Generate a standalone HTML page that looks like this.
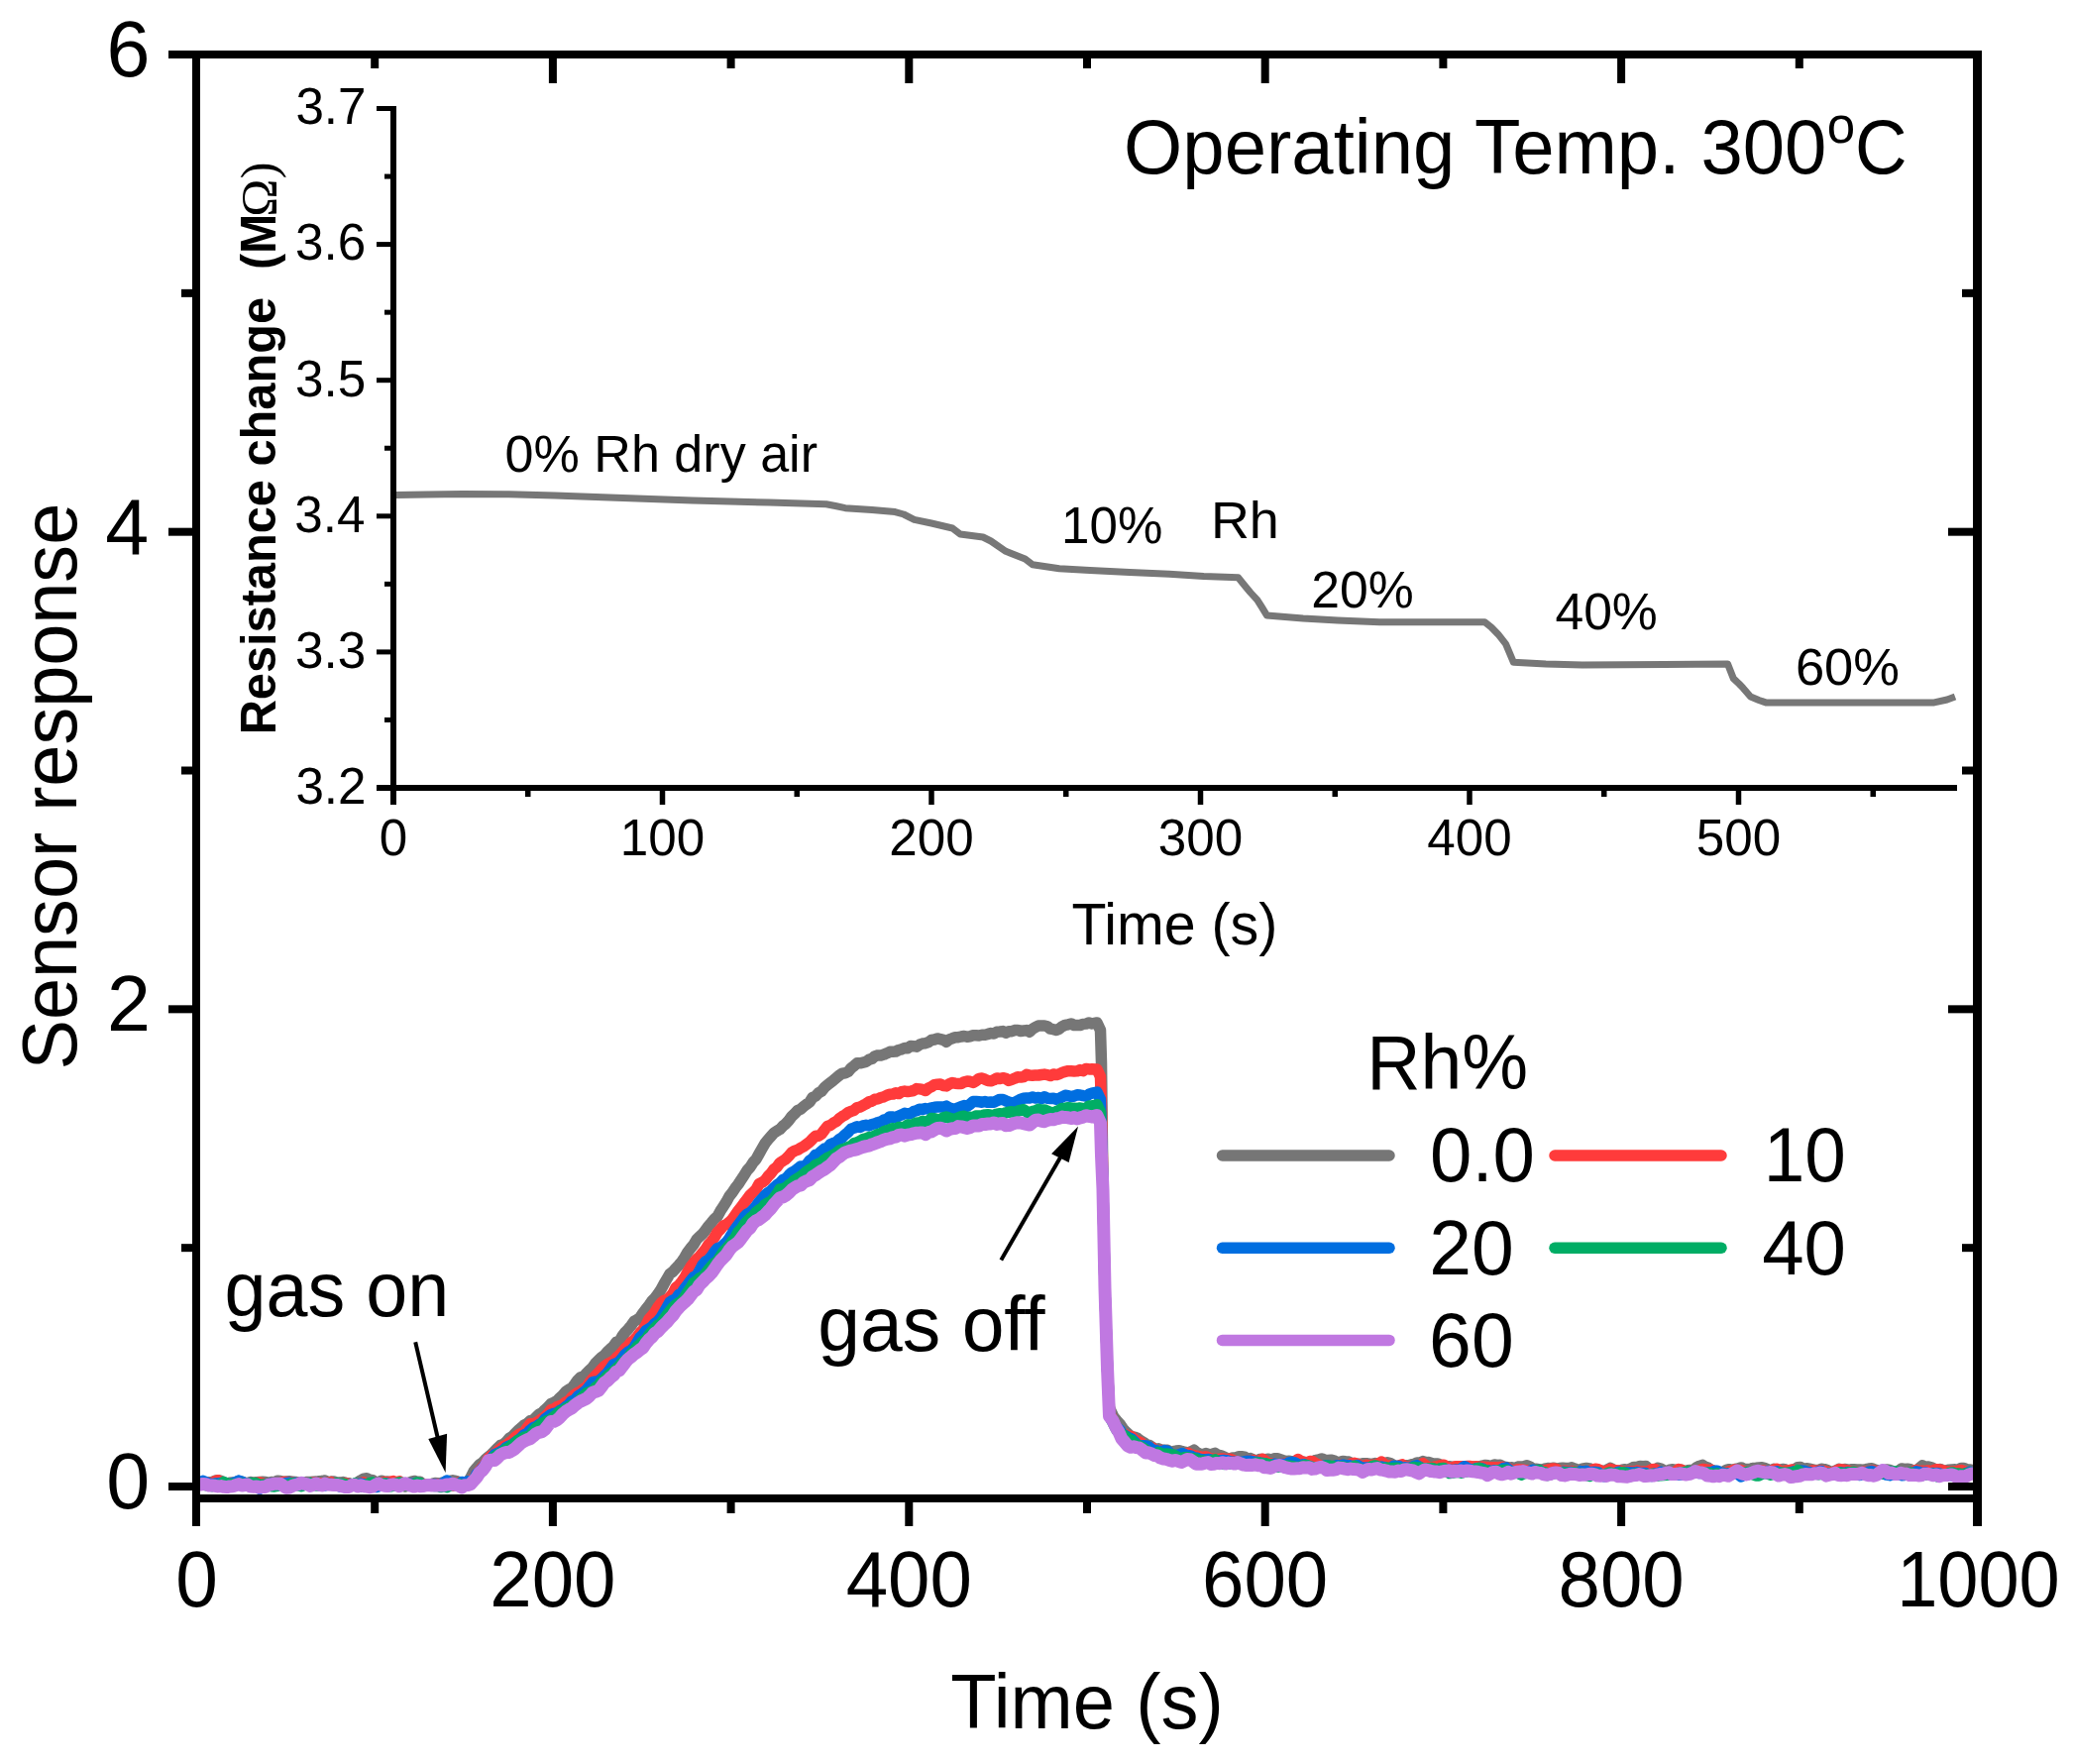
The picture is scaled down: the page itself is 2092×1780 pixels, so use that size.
<!DOCTYPE html>
<html><head><meta charset="utf-8"><style>html,body{margin:0;padding:0;background:#fff;overflow:hidden;}svg{display:block;}</style></head>
<body><svg width="2092" height="1780" viewBox="0 0 2092 1780">
<rect width="2092" height="1780" fill="#fff"/>
<defs><clipPath id="plotclip"><rect x="198" y="55" width="1798" height="1457"/></clipPath></defs>
<g clip-path="url(#plotclip)">
<path d="M199.0,1496.2 L202.0,1496.1 L205.0,1496.7 L208.0,1496.4 L211.0,1495.7 L214.0,1495.5 L217.0,1494.2 L220.0,1493.7 L223.0,1494.4 L226.0,1495.8 L229.0,1497.3 L232.0,1496.3 L235.0,1495.9 L238.0,1495.6 L241.0,1494.5 L244.0,1495.3 L247.0,1496.3 L250.0,1496.4 L253.0,1495.5 L256.0,1496.4 L259.0,1495.7 L262.0,1495.4 L265.0,1495.3 L268.0,1495.4 L271.0,1496.5 L274.0,1495.5 L277.0,1496.1 L280.0,1494.2 L283.0,1494.5 L286.0,1495.3 L289.0,1495.0 L292.0,1494.8 L295.0,1495.1 L298.0,1495.4 L301.0,1496.0 L304.0,1497.3 L307.0,1496.1 L310.0,1495.4 L313.0,1495.4 L316.0,1495.2 L319.0,1495.1 L322.0,1494.7 L325.0,1494.6 L328.0,1494.0 L331.0,1495.6 L334.0,1495.1 L337.0,1495.0 L340.0,1495.9 L343.0,1496.1 L346.0,1495.6 L349.0,1496.4 L352.0,1496.8 L355.0,1498.9 L358.0,1497.8 L361.0,1495.9 L364.0,1493.9 L367.0,1492.1 L370.0,1491.8 L373.0,1493.2 L376.0,1493.7 L379.0,1495.6 L382.0,1496.1 L385.0,1494.2 L388.0,1495.4 L391.0,1495.0 L394.0,1496.7 L397.0,1496.4 L400.0,1496.6 L403.0,1496.2 L406.0,1498.7 L409.0,1500.0 L412.0,1496.5 L415.0,1495.3 L418.0,1494.4 L421.0,1495.2 L424.0,1495.3 L427.0,1498.3 L430.0,1498.4 L433.0,1497.9 L436.0,1497.4 L439.0,1496.6 L442.0,1496.8 L445.0,1496.4 L448.0,1495.9 L451.0,1494.7 L454.0,1494.4 L457.0,1493.8 L460.0,1494.3 L463.0,1495.5 L466.0,1496.1 L469.0,1496.6 L472.0,1496.0 L475.0,1491.1 L478.0,1484.9 L481.0,1481.2 L484.0,1477.8 L487.0,1475.9 L490.0,1472.5 L493.0,1470.1 L496.0,1467.5 L499.0,1464.4 L502.0,1461.5 L505.0,1458.5 L508.0,1457.4 L511.0,1454.7 L514.0,1451.3 L517.0,1449.6 L520.0,1446.2 L523.0,1443.2 L526.0,1440.8 L529.0,1438.1 L532.0,1436.4 L535.0,1433.7 L538.0,1433.1 L541.0,1430.1 L544.0,1427.2 L547.0,1425.7 L550.0,1422.5 L553.0,1419.9 L556.0,1416.5 L559.0,1415.2 L562.0,1413.7 L565.0,1410.5 L568.0,1407.8 L571.0,1404.3 L574.0,1402.2 L577.0,1400.7 L580.0,1396.9 L583.0,1392.6 L586.0,1389.8 L589.0,1389.0 L592.0,1385.6 L595.0,1382.7 L598.0,1379.8 L601.0,1375.5 L604.0,1372.5 L607.0,1369.6 L610.0,1367.5 L613.0,1364.0 L616.0,1361.2 L619.0,1358.6 L622.0,1354.2 L625.0,1353.8 L628.0,1348.2 L631.0,1344.2 L634.0,1341.2 L637.0,1337.5 L640.0,1333.2 L643.0,1331.8 L646.0,1329.2 L649.0,1324.9 L652.0,1320.8 L655.0,1317.1 L658.0,1312.8 L661.0,1309.7 L664.0,1305.7 L667.0,1301.3 L670.0,1295.7 L673.0,1290.5 L676.0,1285.4 L679.0,1283.3 L682.0,1279.9 L685.0,1276.7 L688.0,1273.0 L691.0,1268.7 L694.0,1263.4 L697.0,1259.5 L700.0,1255.9 L703.0,1250.8 L706.0,1247.8 L709.0,1245.2 L712.0,1241.4 L715.0,1237.2 L718.0,1233.7 L721.0,1230.0 L724.0,1227.4 L727.0,1221.9 L730.0,1217.3 L733.0,1212.7 L736.0,1207.1 L739.0,1203.4 L742.0,1198.8 L745.0,1195.0 L748.0,1190.4 L751.0,1185.8 L754.0,1181.0 L757.0,1177.8 L760.0,1173.0 L763.0,1169.8 L766.0,1164.4 L769.0,1159.0 L772.0,1153.8 L775.0,1150.0 L778.0,1146.7 L781.0,1143.3 L784.0,1141.3 L787.0,1139.6 L790.0,1136.3 L793.0,1133.9 L796.0,1130.6 L799.0,1126.5 L802.0,1123.7 L805.0,1120.5 L808.0,1119.2 L811.0,1116.5 L814.0,1114.2 L817.0,1112.1 L820.0,1107.5 L823.0,1106.1 L826.0,1102.9 L829.0,1101.3 L832.0,1097.4 L835.0,1094.9 L838.0,1092.5 L841.0,1090.2 L844.0,1087.7 L847.0,1085.1 L850.0,1083.2 L853.0,1082.8 L856.0,1081.4 L859.0,1077.8 L862.0,1075.4 L865.0,1072.8 L868.0,1072.8 L871.0,1072.1 L874.0,1071.4 L877.0,1069.3 L880.0,1068.3 L883.0,1065.7 L886.0,1064.9 L889.0,1065.0 L892.0,1064.1 L895.0,1062.8 L898.0,1061.3 L901.0,1061.2 L904.0,1061.0 L907.0,1059.5 L910.0,1058.8 L913.0,1057.5 L916.0,1057.8 L919.0,1055.5 L922.0,1055.7 L925.0,1056.2 L928.0,1054.2 L931.0,1053.0 L934.0,1052.7 L937.0,1051.6 L940.0,1049.5 L943.0,1049.0 L946.0,1048.0 L949.0,1048.6 L952.0,1049.3 L955.0,1051.4 L958.0,1048.9 L961.0,1047.8 L964.0,1046.8 L967.0,1046.7 L970.0,1046.0 L973.0,1045.5 L976.0,1046.3 L979.0,1045.8 L982.0,1044.8 L985.0,1044.7 L988.0,1045.0 L991.0,1044.2 L994.0,1044.3 L997.0,1043.4 L1000.0,1042.6 L1003.0,1043.0 L1006.0,1041.3 L1009.0,1041.0 L1012.0,1040.6 L1015.0,1042.2 L1018.0,1040.8 L1021.0,1040.7 L1024.0,1039.6 L1027.0,1039.4 L1030.0,1040.5 L1033.0,1040.0 L1036.0,1039.6 L1039.0,1041.3 L1042.0,1038.3 L1045.0,1036.6 L1048.0,1034.9 L1051.0,1035.1 L1054.0,1035.0 L1057.0,1035.8 L1060.0,1038.2 L1063.0,1038.7 L1066.0,1039.5 L1069.0,1038.2 L1072.0,1035.7 L1075.0,1034.4 L1078.0,1033.8 L1081.0,1033.0 L1084.0,1034.5 L1087.0,1034.5 L1090.0,1034.5 L1093.0,1033.4 L1096.0,1033.1 L1099.0,1032.0 L1102.0,1032.9 L1107.0,1032.0 L1110.5,1039.5 L1111.5,1072.5 L1113.0,1200.0 L1115.0,1300.0 L1117.5,1380.0 L1119.5,1420.0 L1121.0,1423.9 L1124.0,1430.0 L1127.0,1433.5 L1130.0,1436.8 L1133.0,1441.3 L1136.0,1444.7 L1139.0,1447.3 L1142.0,1449.8 L1145.0,1450.2 L1148.0,1451.4 L1151.0,1453.8 L1154.0,1455.5 L1157.0,1457.7 L1160.0,1458.4 L1163.0,1460.6 L1166.0,1462.3 L1169.0,1461.8 L1172.0,1463.0 L1175.0,1463.2 L1178.0,1463.3 L1181.0,1465.0 L1184.0,1464.7 L1187.0,1464.0 L1190.0,1463.7 L1193.0,1464.7 L1196.0,1465.3 L1199.0,1466.2 L1202.0,1464.8 L1205.0,1463.2 L1208.0,1465.9 L1211.0,1467.2 L1214.0,1467.7 L1217.0,1466.5 L1220.0,1467.7 L1223.0,1467.4 L1226.0,1466.3 L1229.0,1468.3 L1232.0,1468.6 L1235.0,1470.0 L1238.0,1471.4 L1241.0,1472.1 L1244.0,1471.0 L1247.0,1471.0 L1250.0,1469.7 L1253.0,1469.7 L1256.0,1470.1 L1259.0,1472.3 L1262.0,1471.6 L1265.0,1473.0 L1268.0,1474.4 L1271.0,1472.6 L1274.0,1472.6 L1277.0,1472.7 L1280.0,1472.3 L1283.0,1473.3 L1286.0,1471.7 L1289.0,1471.8 L1292.0,1472.8 L1295.0,1473.8 L1298.0,1474.7 L1301.0,1474.2 L1304.0,1475.2 L1307.0,1474.6 L1310.0,1475.5 L1313.0,1476.7 L1316.0,1475.2 L1319.0,1476.3 L1322.0,1475.5 L1325.0,1474.7 L1328.0,1473.4 L1331.0,1473.0 L1334.0,1471.9 L1337.0,1473.3 L1340.0,1473.4 L1343.0,1473.2 L1346.0,1473.9 L1349.0,1475.2 L1352.0,1475.5 L1355.0,1474.5 L1358.0,1474.8 L1361.0,1475.0 L1364.0,1476.6 L1367.0,1477.5 L1370.0,1477.3 L1373.0,1477.3 L1376.0,1476.7 L1379.0,1476.7 L1382.0,1477.3 L1385.0,1477.4 L1388.0,1476.6 L1391.0,1477.0 L1394.0,1476.5 L1397.0,1476.5 L1400.0,1475.8 L1403.0,1476.6 L1406.0,1478.3 L1409.0,1480.7 L1412.0,1479.3 L1415.0,1479.4 L1418.0,1478.8 L1421.0,1478.8 L1424.0,1478.0 L1427.0,1477.4 L1430.0,1476.0 L1433.0,1476.0 L1436.0,1474.6 L1439.0,1475.7 L1442.0,1475.5 L1445.0,1476.7 L1448.0,1477.0 L1451.0,1477.0 L1454.0,1478.4 L1457.0,1479.8 L1460.0,1480.0 L1463.0,1479.7 L1466.0,1480.7 L1469.0,1480.3 L1472.0,1480.1 L1475.0,1481.6 L1478.0,1482.0 L1481.0,1481.5 L1484.0,1480.5 L1487.0,1480.0 L1490.0,1480.0 L1493.0,1479.9 L1496.0,1479.1 L1499.0,1478.5 L1502.0,1478.8 L1505.0,1479.3 L1508.0,1478.0 L1511.0,1478.5 L1514.0,1478.3 L1517.0,1479.8 L1520.0,1480.5 L1523.0,1480.9 L1526.0,1480.8 L1529.0,1481.3 L1532.0,1480.1 L1535.0,1479.9 L1538.0,1479.8 L1541.0,1478.8 L1544.0,1480.0 L1547.0,1482.1 L1550.0,1482.3 L1553.0,1482.7 L1556.0,1483.4 L1559.0,1482.2 L1562.0,1481.5 L1565.0,1481.7 L1568.0,1481.2 L1571.0,1482.3 L1574.0,1481.4 L1577.0,1481.2 L1580.0,1481.4 L1583.0,1481.5 L1586.0,1480.8 L1589.0,1482.0 L1592.0,1483.1 L1595.0,1482.6 L1598.0,1482.0 L1601.0,1481.5 L1604.0,1481.9 L1607.0,1482.7 L1610.0,1483.1 L1613.0,1484.2 L1616.0,1483.9 L1619.0,1484.8 L1622.0,1483.1 L1625.0,1481.4 L1628.0,1482.9 L1631.0,1484.7 L1634.0,1484.6 L1637.0,1483.2 L1640.0,1482.7 L1643.0,1483.6 L1646.0,1481.7 L1649.0,1480.4 L1652.0,1480.4 L1655.0,1479.4 L1658.0,1479.8 L1661.0,1479.5 L1664.0,1482.2 L1667.0,1484.7 L1670.0,1483.5 L1673.0,1481.3 L1676.0,1482.1 L1679.0,1483.8 L1682.0,1484.9 L1685.0,1483.1 L1688.0,1482.7 L1691.0,1483.7 L1694.0,1483.1 L1697.0,1483.3 L1700.0,1484.9 L1703.0,1483.8 L1706.0,1483.4 L1709.0,1483.4 L1712.0,1480.7 L1715.0,1479.4 L1718.0,1478.4 L1721.0,1480.3 L1724.0,1481.3 L1727.0,1483.5 L1730.0,1484.2 L1733.0,1484.8 L1736.0,1485.5 L1739.0,1485.5 L1742.0,1483.3 L1745.0,1482.7 L1748.0,1483.3 L1751.0,1482.4 L1754.0,1482.0 L1757.0,1480.9 L1760.0,1482.2 L1763.0,1482.4 L1766.0,1482.6 L1769.0,1481.4 L1772.0,1481.2 L1775.0,1480.9 L1778.0,1480.7 L1781.0,1481.6 L1784.0,1482.9 L1787.0,1483.8 L1790.0,1482.4 L1793.0,1483.8 L1796.0,1483.4 L1799.0,1482.4 L1802.0,1483.0 L1805.0,1484.2 L1808.0,1483.9 L1811.0,1482.7 L1814.0,1480.7 L1817.0,1480.4 L1820.0,1482.5 L1823.0,1481.7 L1826.0,1482.2 L1829.0,1482.8 L1832.0,1483.5 L1835.0,1483.5 L1838.0,1482.3 L1841.0,1482.6 L1844.0,1483.5 L1847.0,1485.2 L1850.0,1485.0 L1853.0,1483.9 L1856.0,1482.3 L1859.0,1483.6 L1862.0,1482.4 L1865.0,1483.4 L1868.0,1482.8 L1871.0,1482.7 L1874.0,1482.9 L1877.0,1483.0 L1880.0,1483.3 L1883.0,1482.7 L1886.0,1482.0 L1889.0,1481.8 L1892.0,1483.1 L1895.0,1483.6 L1898.0,1485.6 L1901.0,1484.8 L1904.0,1483.0 L1907.0,1483.5 L1910.0,1484.6 L1913.0,1485.6 L1916.0,1484.1 L1919.0,1482.0 L1922.0,1482.5 L1925.0,1482.3 L1928.0,1482.7 L1931.0,1484.3 L1934.0,1483.8 L1937.0,1481.3 L1940.0,1478.8 L1943.0,1480.5 L1946.0,1480.0 L1949.0,1480.8 L1952.0,1482.2 L1955.0,1483.5 L1958.0,1482.5 L1961.0,1484.0 L1964.0,1483.9 L1967.0,1483.2 L1970.0,1482.9 L1973.0,1482.8 L1976.0,1483.3 L1979.0,1481.5 L1982.0,1481.5 L1985.0,1482.8 L1988.0,1482.9 L1991.0,1484.0 L1994.0,1484.3 L1997.0,1483.1" fill="none" stroke="#767676" stroke-width="11.5" stroke-linejoin="round" stroke-linecap="butt"/>
<path d="M199.0,1497.6 L202.0,1497.5 L205.0,1496.0 L208.0,1496.6 L211.0,1496.2 L214.0,1497.0 L217.0,1494.8 L220.0,1493.8 L223.0,1495.7 L226.0,1498.3 L229.0,1499.4 L232.0,1498.7 L235.0,1498.5 L238.0,1496.7 L241.0,1496.9 L244.0,1496.8 L247.0,1498.7 L250.0,1497.7 L253.0,1498.1 L256.0,1496.5 L259.0,1496.9 L262.0,1495.8 L265.0,1496.9 L268.0,1498.1 L271.0,1497.7 L274.0,1497.2 L277.0,1496.9 L280.0,1496.9 L283.0,1496.5 L286.0,1495.6 L289.0,1495.6 L292.0,1496.3 L295.0,1496.1 L298.0,1497.9 L301.0,1497.1 L304.0,1496.7 L307.0,1497.7 L310.0,1498.0 L313.0,1497.4 L316.0,1496.2 L319.0,1496.5 L322.0,1497.0 L325.0,1496.8 L328.0,1497.2 L331.0,1496.3 L334.0,1495.6 L337.0,1497.7 L340.0,1497.6 L343.0,1498.4 L346.0,1497.9 L349.0,1497.1 L352.0,1497.3 L355.0,1497.8 L358.0,1497.7 L361.0,1498.4 L364.0,1497.2 L367.0,1495.8 L370.0,1497.3 L373.0,1497.2 L376.0,1499.2 L379.0,1500.2 L382.0,1499.5 L385.0,1497.0 L388.0,1495.5 L391.0,1496.1 L394.0,1495.2 L397.0,1494.6 L400.0,1496.0 L403.0,1494.9 L406.0,1497.5 L409.0,1498.4 L412.0,1498.7 L415.0,1497.4 L418.0,1498.7 L421.0,1498.8 L424.0,1498.1 L427.0,1497.8 L430.0,1498.4 L433.0,1498.8 L436.0,1498.0 L439.0,1497.9 L442.0,1497.8 L445.0,1498.2 L448.0,1497.7 L451.0,1497.4 L454.0,1497.4 L457.0,1499.1 L460.0,1498.6 L463.0,1496.1 L466.0,1497.2 L469.0,1496.8 L472.0,1496.3 L475.0,1494.2 L478.0,1491.8 L481.0,1487.3 L484.0,1484.0 L487.0,1480.2 L490.0,1477.0 L493.0,1471.7 L496.0,1468.8 L499.0,1467.6 L502.0,1464.8 L505.0,1462.1 L508.0,1459.5 L511.0,1458.5 L514.0,1455.7 L517.0,1453.8 L520.0,1450.3 L523.0,1448.0 L526.0,1446.5 L529.0,1445.3 L532.0,1440.9 L535.0,1436.8 L538.0,1436.8 L541.0,1435.7 L544.0,1433.9 L547.0,1431.5 L550.0,1429.6 L553.0,1426.6 L556.0,1422.6 L559.0,1421.9 L562.0,1419.8 L565.0,1418.8 L568.0,1417.2 L571.0,1414.9 L574.0,1413.5 L577.0,1410.0 L580.0,1407.3 L583.0,1405.4 L586.0,1403.9 L589.0,1401.4 L592.0,1399.8 L595.0,1395.0 L598.0,1391.4 L601.0,1388.1 L604.0,1385.3 L607.0,1381.9 L610.0,1378.9 L613.0,1376.6 L616.0,1374.9 L619.0,1373.2 L622.0,1370.2 L625.0,1367.6 L628.0,1364.2 L631.0,1360.7 L634.0,1358.1 L637.0,1354.3 L640.0,1352.1 L643.0,1348.7 L646.0,1344.8 L649.0,1341.7 L652.0,1337.1 L655.0,1330.9 L658.0,1327.8 L661.0,1323.9 L664.0,1318.9 L667.0,1315.0 L670.0,1312.5 L673.0,1311.5 L676.0,1308.8 L679.0,1305.3 L682.0,1299.3 L685.0,1297.0 L688.0,1293.3 L691.0,1289.1 L694.0,1283.4 L697.0,1278.3 L700.0,1274.4 L703.0,1270.7 L706.0,1267.9 L709.0,1264.3 L712.0,1260.5 L715.0,1255.8 L718.0,1252.9 L721.0,1248.6 L724.0,1243.5 L727.0,1240.5 L730.0,1236.8 L733.0,1235.7 L736.0,1233.3 L739.0,1230.4 L742.0,1226.2 L745.0,1221.8 L748.0,1217.9 L751.0,1213.9 L754.0,1210.1 L757.0,1205.9 L760.0,1203.1 L763.0,1200.3 L766.0,1194.7 L769.0,1193.2 L772.0,1191.1 L775.0,1187.1 L778.0,1184.0 L781.0,1179.8 L784.0,1177.6 L787.0,1173.5 L790.0,1171.5 L793.0,1169.6 L796.0,1166.5 L799.0,1163.0 L802.0,1161.2 L805.0,1160.3 L808.0,1158.4 L811.0,1156.9 L814.0,1154.6 L817.0,1152.4 L820.0,1149.2 L823.0,1146.3 L826.0,1146.3 L829.0,1144.3 L832.0,1140.3 L835.0,1136.5 L838.0,1135.5 L841.0,1133.2 L844.0,1131.7 L847.0,1128.7 L850.0,1126.6 L853.0,1124.9 L856.0,1122.6 L859.0,1121.4 L862.0,1120.3 L865.0,1117.6 L868.0,1117.1 L871.0,1115.4 L874.0,1113.9 L877.0,1111.9 L880.0,1111.1 L883.0,1109.3 L886.0,1108.9 L889.0,1107.5 L892.0,1106.8 L895.0,1105.2 L898.0,1104.2 L901.0,1104.1 L904.0,1102.8 L907.0,1103.6 L910.0,1101.7 L913.0,1101.1 L916.0,1101.6 L919.0,1101.1 L922.0,1100.5 L925.0,1098.6 L928.0,1098.9 L931.0,1099.4 L934.0,1100.5 L937.0,1098.0 L940.0,1096.6 L943.0,1094.7 L946.0,1094.2 L949.0,1093.9 L952.0,1095.6 L955.0,1095.9 L958.0,1093.9 L961.0,1092.6 L964.0,1093.2 L967.0,1093.4 L970.0,1093.5 L973.0,1091.8 L976.0,1091.1 L979.0,1091.3 L982.0,1092.4 L985.0,1090.7 L988.0,1088.4 L991.0,1088.0 L994.0,1089.2 L997.0,1090.5 L1000.0,1090.8 L1003.0,1089.7 L1006.0,1087.9 L1009.0,1088.6 L1012.0,1087.7 L1015.0,1088.4 L1018.0,1090.4 L1021.0,1089.3 L1024.0,1088.2 L1027.0,1086.8 L1030.0,1087.1 L1033.0,1086.5 L1036.0,1084.3 L1039.0,1085.1 L1042.0,1085.3 L1045.0,1084.9 L1048.0,1085.0 L1051.0,1084.5 L1054.0,1084.1 L1057.0,1084.6 L1060.0,1085.6 L1063.0,1084.0 L1066.0,1084.6 L1069.0,1083.8 L1072.0,1082.2 L1075.0,1081.4 L1078.0,1080.7 L1081.0,1080.8 L1084.0,1080.9 L1087.0,1080.8 L1090.0,1079.6 L1093.0,1080.7 L1096.0,1078.4 L1099.0,1078.9 L1102.0,1078.8 L1107.0,1079.0 L1110.5,1086.5 L1111.5,1119.5 L1113.0,1200.0 L1115.0,1300.0 L1117.5,1380.0 L1119.5,1423.0 L1121.0,1428.9 L1124.0,1435.4 L1127.0,1441.5 L1130.0,1444.9 L1133.0,1446.2 L1136.0,1447.9 L1139.0,1448.7 L1142.0,1449.7 L1145.0,1452.8 L1148.0,1454.3 L1151.0,1455.5 L1154.0,1458.4 L1157.0,1461.2 L1160.0,1461.9 L1163.0,1461.0 L1166.0,1463.6 L1169.0,1465.0 L1172.0,1463.5 L1175.0,1463.7 L1178.0,1464.7 L1181.0,1466.3 L1184.0,1469.5 L1187.0,1470.5 L1190.0,1470.1 L1193.0,1469.1 L1196.0,1467.9 L1199.0,1466.3 L1202.0,1468.3 L1205.0,1468.5 L1208.0,1469.3 L1211.0,1469.9 L1214.0,1470.6 L1217.0,1469.9 L1220.0,1471.1 L1223.0,1472.2 L1226.0,1472.3 L1229.0,1472.5 L1232.0,1472.1 L1235.0,1472.0 L1238.0,1472.8 L1241.0,1472.2 L1244.0,1473.4 L1247.0,1474.6 L1250.0,1475.2 L1253.0,1476.0 L1256.0,1476.1 L1259.0,1473.9 L1262.0,1474.1 L1265.0,1473.4 L1268.0,1474.4 L1271.0,1474.4 L1274.0,1472.4 L1277.0,1474.4 L1280.0,1476.5 L1283.0,1476.8 L1286.0,1477.8 L1289.0,1479.0 L1292.0,1477.9 L1295.0,1477.2 L1298.0,1476.4 L1301.0,1476.9 L1304.0,1476.0 L1307.0,1474.7 L1310.0,1472.5 L1313.0,1474.5 L1316.0,1476.0 L1319.0,1476.1 L1322.0,1474.4 L1325.0,1475.0 L1328.0,1477.0 L1331.0,1478.1 L1334.0,1479.5 L1337.0,1479.8 L1340.0,1479.4 L1343.0,1479.8 L1346.0,1480.2 L1349.0,1479.1 L1352.0,1478.2 L1355.0,1478.9 L1358.0,1479.1 L1361.0,1478.6 L1364.0,1476.9 L1367.0,1476.3 L1370.0,1477.4 L1373.0,1479.7 L1376.0,1479.3 L1379.0,1478.2 L1382.0,1479.4 L1385.0,1478.2 L1388.0,1478.4 L1391.0,1477.2 L1394.0,1475.1 L1397.0,1477.5 L1400.0,1479.4 L1403.0,1478.9 L1406.0,1479.9 L1409.0,1480.0 L1412.0,1478.9 L1415.0,1477.8 L1418.0,1480.0 L1421.0,1480.2 L1424.0,1480.2 L1427.0,1480.4 L1430.0,1480.4 L1433.0,1479.3 L1436.0,1476.7 L1439.0,1479.1 L1442.0,1481.0 L1445.0,1480.9 L1448.0,1480.2 L1451.0,1479.6 L1454.0,1478.7 L1457.0,1478.2 L1460.0,1480.1 L1463.0,1481.3 L1466.0,1480.9 L1469.0,1479.7 L1472.0,1479.8 L1475.0,1479.8 L1478.0,1479.7 L1481.0,1479.6 L1484.0,1479.6 L1487.0,1480.2 L1490.0,1479.7 L1493.0,1480.9 L1496.0,1480.1 L1499.0,1480.4 L1502.0,1480.8 L1505.0,1480.8 L1508.0,1480.8 L1511.0,1480.7 L1514.0,1480.5 L1517.0,1480.6 L1520.0,1481.1 L1523.0,1482.1 L1526.0,1484.1 L1529.0,1483.9 L1532.0,1482.7 L1535.0,1482.9 L1538.0,1483.3 L1541.0,1483.8 L1544.0,1484.0 L1547.0,1485.7 L1550.0,1484.8 L1553.0,1484.4 L1556.0,1484.4 L1559.0,1483.8 L1562.0,1483.0 L1565.0,1482.2 L1568.0,1482.0 L1571.0,1482.6 L1574.0,1485.2 L1577.0,1484.5 L1580.0,1484.2 L1583.0,1485.9 L1586.0,1484.4 L1589.0,1485.4 L1592.0,1485.6 L1595.0,1484.7 L1598.0,1484.4 L1601.0,1484.9 L1604.0,1485.2 L1607.0,1483.2 L1610.0,1482.3 L1613.0,1482.7 L1616.0,1484.3 L1619.0,1485.0 L1622.0,1484.1 L1625.0,1482.4 L1628.0,1483.5 L1631.0,1483.7 L1634.0,1484.0 L1637.0,1485.0 L1640.0,1485.4 L1643.0,1485.0 L1646.0,1484.7 L1649.0,1485.1 L1652.0,1484.1 L1655.0,1485.4 L1658.0,1485.0 L1661.0,1485.0 L1664.0,1484.3 L1667.0,1482.7 L1670.0,1482.5 L1673.0,1484.7 L1676.0,1486.1 L1679.0,1485.7 L1682.0,1486.4 L1685.0,1487.2 L1688.0,1485.9 L1691.0,1485.7 L1694.0,1482.6 L1697.0,1483.3 L1700.0,1484.9 L1703.0,1485.9 L1706.0,1486.2 L1709.0,1485.7 L1712.0,1484.7 L1715.0,1483.8 L1718.0,1482.5 L1721.0,1482.7 L1724.0,1483.6 L1727.0,1483.3 L1730.0,1485.3 L1733.0,1485.5 L1736.0,1486.0 L1739.0,1486.9 L1742.0,1486.3 L1745.0,1484.9 L1748.0,1484.1 L1751.0,1483.0 L1754.0,1483.8 L1757.0,1483.6 L1760.0,1485.0 L1763.0,1486.6 L1766.0,1485.9 L1769.0,1485.6 L1772.0,1485.1 L1775.0,1484.6 L1778.0,1484.0 L1781.0,1484.3 L1784.0,1484.9 L1787.0,1485.1 L1790.0,1483.2 L1793.0,1482.2 L1796.0,1484.3 L1799.0,1485.2 L1802.0,1484.0 L1805.0,1483.8 L1808.0,1483.0 L1811.0,1483.7 L1814.0,1484.4 L1817.0,1484.9 L1820.0,1486.9 L1823.0,1486.7 L1826.0,1485.7 L1829.0,1484.1 L1832.0,1484.2 L1835.0,1484.3 L1838.0,1483.8 L1841.0,1484.5 L1844.0,1485.3 L1847.0,1486.3 L1850.0,1485.8 L1853.0,1484.4 L1856.0,1482.8 L1859.0,1483.0 L1862.0,1483.5 L1865.0,1484.0 L1868.0,1485.2 L1871.0,1485.6 L1874.0,1485.6 L1877.0,1486.7 L1880.0,1485.3 L1883.0,1485.3 L1886.0,1484.9 L1889.0,1484.0 L1892.0,1484.3 L1895.0,1485.2 L1898.0,1485.6 L1901.0,1484.5 L1904.0,1485.8 L1907.0,1485.0 L1910.0,1486.7 L1913.0,1487.5 L1916.0,1487.2 L1919.0,1487.2 L1922.0,1487.5 L1925.0,1487.2 L1928.0,1486.6 L1931.0,1485.0 L1934.0,1483.5 L1937.0,1484.4 L1940.0,1484.3 L1943.0,1484.7 L1946.0,1483.9 L1949.0,1484.9 L1952.0,1483.4 L1955.0,1482.7 L1958.0,1483.2 L1961.0,1483.8 L1964.0,1485.2 L1967.0,1484.9 L1970.0,1485.0 L1973.0,1484.8 L1976.0,1484.2 L1979.0,1483.5 L1982.0,1484.6 L1985.0,1485.7 L1988.0,1486.6 L1991.0,1486.4 L1994.0,1486.3 L1997.0,1485.3" fill="none" stroke="#FF3B3B" stroke-width="11.5" stroke-linejoin="round" stroke-linecap="butt"/>
<path d="M199.0,1499.8 L202.0,1497.5 L205.0,1494.4 L208.0,1495.8 L211.0,1497.2 L214.0,1497.7 L217.0,1497.1 L220.0,1496.9 L223.0,1496.4 L226.0,1496.4 L229.0,1497.2 L232.0,1498.3 L235.0,1496.7 L238.0,1495.5 L241.0,1494.1 L244.0,1495.1 L247.0,1497.1 L250.0,1497.3 L253.0,1496.5 L256.0,1497.3 L259.0,1499.7 L262.0,1502.2 L265.0,1499.5 L268.0,1498.2 L271.0,1497.6 L274.0,1496.9 L277.0,1496.8 L280.0,1496.7 L283.0,1496.9 L286.0,1497.3 L289.0,1496.4 L292.0,1496.3 L295.0,1496.6 L298.0,1496.5 L301.0,1497.4 L304.0,1495.9 L307.0,1497.9 L310.0,1497.8 L313.0,1498.0 L316.0,1497.9 L319.0,1498.0 L322.0,1498.7 L325.0,1499.0 L328.0,1499.0 L331.0,1497.4 L334.0,1497.4 L337.0,1498.0 L340.0,1497.7 L343.0,1500.0 L346.0,1500.4 L349.0,1500.4 L352.0,1498.7 L355.0,1497.9 L358.0,1497.6 L361.0,1497.5 L364.0,1497.1 L367.0,1497.8 L370.0,1498.1 L373.0,1499.3 L376.0,1498.9 L379.0,1500.6 L382.0,1499.9 L385.0,1498.4 L388.0,1497.3 L391.0,1497.0 L394.0,1497.7 L397.0,1498.7 L400.0,1499.0 L403.0,1499.3 L406.0,1498.7 L409.0,1496.9 L412.0,1497.2 L415.0,1497.3 L418.0,1497.3 L421.0,1499.1 L424.0,1498.3 L427.0,1499.3 L430.0,1498.8 L433.0,1499.1 L436.0,1498.2 L439.0,1498.0 L442.0,1498.9 L445.0,1498.0 L448.0,1496.1 L451.0,1494.1 L454.0,1496.3 L457.0,1498.6 L460.0,1498.2 L463.0,1497.4 L466.0,1495.5 L469.0,1496.0 L472.0,1494.7 L475.0,1495.5 L478.0,1493.2 L481.0,1487.3 L484.0,1485.0 L487.0,1481.6 L490.0,1477.6 L493.0,1474.9 L496.0,1471.4 L499.0,1467.9 L502.0,1466.6 L505.0,1465.0 L508.0,1463.3 L511.0,1460.4 L514.0,1459.0 L517.0,1457.7 L520.0,1455.3 L523.0,1453.3 L526.0,1450.9 L529.0,1448.0 L532.0,1446.5 L535.0,1443.2 L538.0,1440.9 L541.0,1439.6 L544.0,1437.5 L547.0,1435.8 L550.0,1431.9 L553.0,1429.7 L556.0,1427.5 L559.0,1426.2 L562.0,1426.4 L565.0,1423.4 L568.0,1422.0 L571.0,1419.6 L574.0,1417.3 L577.0,1413.8 L580.0,1412.7 L583.0,1409.1 L586.0,1407.1 L589.0,1404.9 L592.0,1402.4 L595.0,1398.8 L598.0,1394.9 L601.0,1394.1 L604.0,1393.6 L607.0,1391.3 L610.0,1388.2 L613.0,1385.4 L616.0,1381.3 L619.0,1377.0 L622.0,1375.6 L625.0,1374.0 L628.0,1370.5 L631.0,1366.6 L634.0,1364.1 L637.0,1362.5 L640.0,1359.4 L643.0,1354.5 L646.0,1349.5 L649.0,1346.7 L652.0,1342.5 L655.0,1340.9 L658.0,1338.8 L661.0,1335.4 L664.0,1333.3 L667.0,1329.7 L670.0,1324.5 L673.0,1319.4 L676.0,1314.1 L679.0,1312.1 L682.0,1310.8 L685.0,1306.5 L688.0,1304.7 L691.0,1300.0 L694.0,1296.3 L697.0,1292.2 L700.0,1288.7 L703.0,1287.2 L706.0,1282.3 L709.0,1276.5 L712.0,1273.0 L715.0,1271.3 L718.0,1267.9 L721.0,1263.3 L724.0,1259.8 L727.0,1258.8 L730.0,1256.3 L733.0,1253.6 L736.0,1249.6 L739.0,1244.7 L742.0,1240.3 L745.0,1236.3 L748.0,1232.3 L751.0,1228.1 L754.0,1225.1 L757.0,1223.6 L760.0,1220.7 L763.0,1217.1 L766.0,1212.9 L769.0,1209.8 L772.0,1206.4 L775.0,1203.5 L778.0,1201.6 L781.0,1198.7 L784.0,1195.9 L787.0,1193.9 L790.0,1190.6 L793.0,1189.3 L796.0,1186.0 L799.0,1183.1 L802.0,1181.7 L805.0,1179.5 L808.0,1177.0 L811.0,1177.1 L814.0,1175.3 L817.0,1171.3 L820.0,1169.2 L823.0,1165.3 L826.0,1164.5 L829.0,1161.6 L832.0,1159.1 L835.0,1158.3 L838.0,1154.9 L841.0,1153.6 L844.0,1152.3 L847.0,1149.7 L850.0,1147.8 L853.0,1144.8 L856.0,1142.3 L859.0,1139.2 L862.0,1138.1 L865.0,1136.8 L868.0,1137.4 L871.0,1135.9 L874.0,1135.3 L877.0,1135.9 L880.0,1134.5 L883.0,1133.8 L886.0,1132.6 L889.0,1132.0 L892.0,1130.0 L895.0,1129.2 L898.0,1126.9 L901.0,1127.1 L904.0,1127.8 L907.0,1126.0 L910.0,1124.8 L913.0,1123.3 L916.0,1124.0 L919.0,1123.5 L922.0,1121.6 L925.0,1120.7 L928.0,1119.3 L931.0,1119.4 L934.0,1118.6 L937.0,1119.1 L940.0,1117.8 L943.0,1117.3 L946.0,1117.1 L949.0,1117.1 L952.0,1117.1 L955.0,1116.1 L958.0,1117.9 L961.0,1118.8 L964.0,1119.0 L967.0,1117.8 L970.0,1116.7 L973.0,1115.6 L976.0,1116.4 L979.0,1114.3 L982.0,1111.6 L985.0,1111.5 L988.0,1111.8 L991.0,1112.2 L994.0,1111.6 L997.0,1112.3 L1000.0,1112.1 L1003.0,1112.3 L1006.0,1110.7 L1009.0,1109.4 L1012.0,1109.5 L1015.0,1110.8 L1018.0,1112.0 L1021.0,1112.8 L1024.0,1112.5 L1027.0,1111.0 L1030.0,1109.2 L1033.0,1108.3 L1036.0,1107.9 L1039.0,1107.9 L1042.0,1107.0 L1045.0,1108.0 L1048.0,1107.5 L1051.0,1108.6 L1054.0,1106.8 L1057.0,1108.2 L1060.0,1108.4 L1063.0,1108.3 L1066.0,1109.3 L1069.0,1108.5 L1072.0,1106.8 L1075.0,1105.3 L1078.0,1105.7 L1081.0,1106.6 L1084.0,1106.0 L1087.0,1104.8 L1090.0,1105.0 L1093.0,1105.7 L1096.0,1106.2 L1099.0,1104.2 L1102.0,1103.1 L1107.0,1102.0 L1110.5,1109.5 L1111.5,1142.5 L1113.0,1200.0 L1115.0,1300.0 L1117.5,1380.0 L1119.5,1425.0 L1121.0,1431.4 L1124.0,1435.5 L1127.0,1440.3 L1130.0,1443.0 L1133.0,1447.3 L1136.0,1448.9 L1139.0,1450.8 L1142.0,1452.1 L1145.0,1455.1 L1148.0,1458.2 L1151.0,1459.0 L1154.0,1458.7 L1157.0,1458.9 L1160.0,1460.4 L1163.0,1462.9 L1166.0,1463.4 L1169.0,1464.3 L1172.0,1464.6 L1175.0,1463.6 L1178.0,1464.1 L1181.0,1466.5 L1184.0,1470.3 L1187.0,1468.3 L1190.0,1467.8 L1193.0,1466.6 L1196.0,1467.9 L1199.0,1468.8 L1202.0,1469.2 L1205.0,1470.9 L1208.0,1471.3 L1211.0,1472.5 L1214.0,1473.1 L1217.0,1472.7 L1220.0,1472.4 L1223.0,1473.9 L1226.0,1476.0 L1229.0,1475.8 L1232.0,1473.8 L1235.0,1473.5 L1238.0,1473.7 L1241.0,1474.9 L1244.0,1475.3 L1247.0,1475.3 L1250.0,1475.2 L1253.0,1475.4 L1256.0,1474.8 L1259.0,1474.2 L1262.0,1474.2 L1265.0,1475.0 L1268.0,1475.2 L1271.0,1476.1 L1274.0,1476.5 L1277.0,1477.1 L1280.0,1478.7 L1283.0,1479.1 L1286.0,1477.3 L1289.0,1477.7 L1292.0,1477.6 L1295.0,1477.6 L1298.0,1477.5 L1301.0,1475.8 L1304.0,1475.3 L1307.0,1476.1 L1310.0,1478.5 L1313.0,1478.1 L1316.0,1477.8 L1319.0,1479.9 L1322.0,1479.8 L1325.0,1481.7 L1328.0,1480.8 L1331.0,1480.6 L1334.0,1479.8 L1337.0,1478.9 L1340.0,1478.9 L1343.0,1479.9 L1346.0,1479.8 L1349.0,1478.7 L1352.0,1479.4 L1355.0,1478.2 L1358.0,1478.9 L1361.0,1478.7 L1364.0,1479.3 L1367.0,1480.3 L1370.0,1478.6 L1373.0,1480.5 L1376.0,1481.5 L1379.0,1481.0 L1382.0,1481.1 L1385.0,1480.8 L1388.0,1481.7 L1391.0,1480.6 L1394.0,1480.1 L1397.0,1480.7 L1400.0,1482.7 L1403.0,1481.8 L1406.0,1479.4 L1409.0,1479.5 L1412.0,1479.6 L1415.0,1481.5 L1418.0,1480.8 L1421.0,1481.4 L1424.0,1481.0 L1427.0,1479.5 L1430.0,1478.7 L1433.0,1480.7 L1436.0,1481.8 L1439.0,1483.3 L1442.0,1483.2 L1445.0,1482.3 L1448.0,1483.3 L1451.0,1485.1 L1454.0,1483.4 L1457.0,1481.9 L1460.0,1483.0 L1463.0,1483.2 L1466.0,1483.6 L1469.0,1483.1 L1472.0,1483.8 L1475.0,1481.8 L1478.0,1479.8 L1481.0,1481.6 L1484.0,1482.7 L1487.0,1482.8 L1490.0,1481.8 L1493.0,1481.4 L1496.0,1482.1 L1499.0,1483.7 L1502.0,1483.7 L1505.0,1485.1 L1508.0,1483.7 L1511.0,1483.9 L1514.0,1483.3 L1517.0,1481.7 L1520.0,1481.1 L1523.0,1483.2 L1526.0,1485.3 L1529.0,1486.3 L1532.0,1484.7 L1535.0,1484.9 L1538.0,1485.3 L1541.0,1485.8 L1544.0,1484.2 L1547.0,1483.3 L1550.0,1484.2 L1553.0,1483.4 L1556.0,1485.3 L1559.0,1487.1 L1562.0,1487.6 L1565.0,1486.8 L1568.0,1485.5 L1571.0,1485.7 L1574.0,1485.9 L1577.0,1485.3 L1580.0,1485.5 L1583.0,1485.8 L1586.0,1485.6 L1589.0,1486.9 L1592.0,1486.7 L1595.0,1484.6 L1598.0,1485.0 L1601.0,1484.5 L1604.0,1485.7 L1607.0,1485.5 L1610.0,1485.5 L1613.0,1486.0 L1616.0,1488.4 L1619.0,1489.8 L1622.0,1488.9 L1625.0,1488.3 L1628.0,1487.0 L1631.0,1486.3 L1634.0,1485.3 L1637.0,1486.1 L1640.0,1486.4 L1643.0,1485.7 L1646.0,1485.9 L1649.0,1486.4 L1652.0,1485.6 L1655.0,1486.4 L1658.0,1486.5 L1661.0,1486.6 L1664.0,1488.1 L1667.0,1489.4 L1670.0,1487.0 L1673.0,1487.2 L1676.0,1485.2 L1679.0,1486.2 L1682.0,1485.9 L1685.0,1486.3 L1688.0,1487.0 L1691.0,1487.4 L1694.0,1488.2 L1697.0,1488.1 L1700.0,1487.1 L1703.0,1486.9 L1706.0,1485.4 L1709.0,1485.3 L1712.0,1485.1 L1715.0,1486.5 L1718.0,1486.3 L1721.0,1487.3 L1724.0,1485.8 L1727.0,1486.1 L1730.0,1484.5 L1733.0,1484.2 L1736.0,1486.1 L1739.0,1486.4 L1742.0,1487.4 L1745.0,1486.7 L1748.0,1486.9 L1751.0,1486.7 L1754.0,1487.3 L1757.0,1489.9 L1760.0,1488.3 L1763.0,1488.1 L1766.0,1486.5 L1769.0,1486.1 L1772.0,1485.8 L1775.0,1486.2 L1778.0,1486.6 L1781.0,1486.5 L1784.0,1484.7 L1787.0,1485.5 L1790.0,1485.3 L1793.0,1484.8 L1796.0,1486.2 L1799.0,1487.8 L1802.0,1487.6 L1805.0,1486.1 L1808.0,1485.8 L1811.0,1484.8 L1814.0,1484.5 L1817.0,1484.1 L1820.0,1484.2 L1823.0,1485.4 L1826.0,1485.4 L1829.0,1487.1 L1832.0,1486.4 L1835.0,1485.1 L1838.0,1484.5 L1841.0,1487.1 L1844.0,1486.9 L1847.0,1487.4 L1850.0,1487.7 L1853.0,1487.4 L1856.0,1486.1 L1859.0,1486.1 L1862.0,1486.4 L1865.0,1485.5 L1868.0,1486.4 L1871.0,1485.8 L1874.0,1487.4 L1877.0,1488.5 L1880.0,1487.2 L1883.0,1486.3 L1886.0,1485.2 L1889.0,1484.6 L1892.0,1485.6 L1895.0,1485.8 L1898.0,1486.2 L1901.0,1487.3 L1904.0,1488.2 L1907.0,1488.7 L1910.0,1487.8 L1913.0,1488.0 L1916.0,1487.5 L1919.0,1488.7 L1922.0,1488.5 L1925.0,1487.3 L1928.0,1487.3 L1931.0,1486.2 L1934.0,1484.8 L1937.0,1485.3 L1940.0,1487.8 L1943.0,1485.9 L1946.0,1487.2 L1949.0,1486.6 L1952.0,1486.7 L1955.0,1486.6 L1958.0,1487.1 L1961.0,1489.0 L1964.0,1489.3 L1967.0,1488.1 L1970.0,1488.9 L1973.0,1487.9 L1976.0,1488.1 L1979.0,1487.9 L1982.0,1487.9 L1985.0,1486.4 L1988.0,1485.3 L1991.0,1486.2 L1994.0,1487.0 L1997.0,1486.8" fill="none" stroke="#006EE0" stroke-width="11.5" stroke-linejoin="round" stroke-linecap="butt"/>
<path d="M199.0,1497.7 L202.0,1497.5 L205.0,1498.0 L208.0,1498.8 L211.0,1499.0 L214.0,1499.7 L217.0,1498.2 L220.0,1498.8 L223.0,1498.2 L226.0,1495.6 L229.0,1497.0 L232.0,1497.8 L235.0,1497.8 L238.0,1497.5 L241.0,1497.2 L244.0,1497.2 L247.0,1497.9 L250.0,1497.5 L253.0,1496.8 L256.0,1496.5 L259.0,1496.9 L262.0,1498.7 L265.0,1498.0 L268.0,1498.2 L271.0,1499.0 L274.0,1499.7 L277.0,1499.9 L280.0,1499.3 L283.0,1498.2 L286.0,1498.2 L289.0,1498.6 L292.0,1498.4 L295.0,1496.7 L298.0,1497.6 L301.0,1499.0 L304.0,1499.7 L307.0,1498.4 L310.0,1497.0 L313.0,1496.6 L316.0,1498.2 L319.0,1498.9 L322.0,1499.1 L325.0,1498.1 L328.0,1497.6 L331.0,1497.2 L334.0,1497.7 L337.0,1497.5 L340.0,1496.7 L343.0,1497.6 L346.0,1497.4 L349.0,1497.9 L352.0,1499.0 L355.0,1498.6 L358.0,1496.9 L361.0,1499.3 L364.0,1500.0 L367.0,1500.4 L370.0,1498.3 L373.0,1496.6 L376.0,1496.0 L379.0,1497.9 L382.0,1498.2 L385.0,1497.6 L388.0,1496.8 L391.0,1497.9 L394.0,1499.8 L397.0,1499.1 L400.0,1496.9 L403.0,1495.9 L406.0,1496.5 L409.0,1498.4 L412.0,1499.1 L415.0,1497.9 L418.0,1498.7 L421.0,1496.0 L424.0,1496.7 L427.0,1498.6 L430.0,1499.2 L433.0,1498.7 L436.0,1499.0 L439.0,1499.5 L442.0,1499.3 L445.0,1500.6 L448.0,1499.5 L451.0,1500.7 L454.0,1498.7 L457.0,1497.6 L460.0,1497.5 L463.0,1497.5 L466.0,1498.4 L469.0,1498.9 L472.0,1498.1 L475.0,1496.9 L478.0,1493.6 L481.0,1489.4 L484.0,1486.3 L487.0,1482.7 L490.0,1478.9 L493.0,1475.4 L496.0,1473.2 L499.0,1470.0 L502.0,1467.9 L505.0,1466.7 L508.0,1464.5 L511.0,1461.9 L514.0,1460.8 L517.0,1457.9 L520.0,1456.1 L523.0,1453.2 L526.0,1452.3 L529.0,1450.1 L532.0,1449.7 L535.0,1448.5 L538.0,1444.5 L541.0,1441.0 L544.0,1439.0 L547.0,1436.4 L550.0,1434.7 L553.0,1433.3 L556.0,1432.2 L559.0,1429.6 L562.0,1427.4 L565.0,1424.5 L568.0,1423.6 L571.0,1421.1 L574.0,1419.9 L577.0,1417.9 L580.0,1417.1 L583.0,1414.9 L586.0,1411.5 L589.0,1408.5 L592.0,1405.7 L595.0,1404.6 L598.0,1403.8 L601.0,1399.9 L604.0,1398.1 L607.0,1394.0 L610.0,1392.0 L613.0,1388.5 L616.0,1386.1 L619.0,1384.1 L622.0,1381.0 L625.0,1378.4 L628.0,1374.7 L631.0,1372.7 L634.0,1370.2 L637.0,1365.5 L640.0,1362.9 L643.0,1358.9 L646.0,1356.4 L649.0,1353.5 L652.0,1351.4 L655.0,1347.0 L658.0,1343.5 L661.0,1340.0 L664.0,1337.0 L667.0,1335.6 L670.0,1331.4 L673.0,1326.9 L676.0,1323.3 L679.0,1319.5 L682.0,1316.7 L685.0,1314.6 L688.0,1313.1 L691.0,1308.7 L694.0,1303.9 L697.0,1299.7 L700.0,1294.5 L703.0,1292.5 L706.0,1289.9 L709.0,1288.3 L712.0,1285.1 L715.0,1281.3 L718.0,1277.7 L721.0,1274.5 L724.0,1272.6 L727.0,1267.9 L730.0,1263.0 L733.0,1260.0 L736.0,1256.8 L739.0,1252.4 L742.0,1249.1 L745.0,1243.2 L748.0,1240.3 L751.0,1235.7 L754.0,1232.5 L757.0,1229.4 L760.0,1227.1 L763.0,1223.3 L766.0,1221.0 L769.0,1219.2 L772.0,1215.6 L775.0,1213.8 L778.0,1212.4 L781.0,1209.1 L784.0,1205.0 L787.0,1200.0 L790.0,1199.6 L793.0,1198.4 L796.0,1195.7 L799.0,1193.9 L802.0,1190.7 L805.0,1189.1 L808.0,1187.2 L811.0,1184.8 L814.0,1182.2 L817.0,1180.1 L820.0,1178.6 L823.0,1175.5 L826.0,1174.3 L829.0,1173.4 L832.0,1170.5 L835.0,1168.3 L838.0,1167.2 L841.0,1165.3 L844.0,1163.7 L847.0,1161.1 L850.0,1159.8 L853.0,1158.9 L856.0,1157.5 L859.0,1156.5 L862.0,1153.5 L865.0,1152.8 L868.0,1151.2 L871.0,1149.6 L874.0,1148.8 L877.0,1147.6 L880.0,1147.7 L883.0,1145.9 L886.0,1144.5 L889.0,1143.7 L892.0,1141.7 L895.0,1140.8 L898.0,1139.9 L901.0,1138.6 L904.0,1139.6 L907.0,1137.6 L910.0,1137.4 L913.0,1137.9 L916.0,1134.9 L919.0,1135.5 L922.0,1134.5 L925.0,1133.0 L928.0,1133.0 L931.0,1131.4 L934.0,1132.2 L937.0,1131.3 L940.0,1128.6 L943.0,1128.7 L946.0,1129.7 L949.0,1129.5 L952.0,1127.8 L955.0,1126.9 L958.0,1128.3 L961.0,1128.9 L964.0,1129.4 L967.0,1127.8 L970.0,1126.7 L973.0,1126.3 L976.0,1127.8 L979.0,1127.2 L982.0,1128.2 L985.0,1126.0 L988.0,1125.9 L991.0,1125.6 L994.0,1125.0 L997.0,1124.8 L1000.0,1125.2 L1003.0,1125.4 L1006.0,1124.1 L1009.0,1123.8 L1012.0,1124.2 L1015.0,1122.8 L1018.0,1122.2 L1021.0,1121.8 L1024.0,1122.5 L1027.0,1121.3 L1030.0,1120.3 L1033.0,1119.7 L1036.0,1121.7 L1039.0,1124.1 L1042.0,1121.4 L1045.0,1120.9 L1048.0,1119.3 L1051.0,1120.4 L1054.0,1119.9 L1057.0,1121.2 L1060.0,1122.3 L1063.0,1122.8 L1066.0,1121.6 L1069.0,1120.3 L1072.0,1118.5 L1075.0,1118.2 L1078.0,1117.7 L1081.0,1118.0 L1084.0,1118.2 L1087.0,1118.6 L1090.0,1118.0 L1093.0,1118.7 L1096.0,1118.9 L1099.0,1115.9 L1102.0,1115.9 L1107.0,1114.8 L1110.5,1122.3 L1111.5,1155.3 L1113.0,1200.0 L1115.0,1300.0 L1117.5,1380.0 L1119.5,1426.0 L1121.0,1431.5 L1124.0,1437.4 L1127.0,1443.1 L1130.0,1445.6 L1133.0,1447.5 L1136.0,1450.0 L1139.0,1452.5 L1142.0,1453.5 L1145.0,1456.8 L1148.0,1458.1 L1151.0,1459.7 L1154.0,1461.3 L1157.0,1463.5 L1160.0,1465.5 L1163.0,1467.4 L1166.0,1467.1 L1169.0,1465.5 L1172.0,1466.8 L1175.0,1467.3 L1178.0,1467.1 L1181.0,1467.5 L1184.0,1467.9 L1187.0,1469.6 L1190.0,1471.6 L1193.0,1471.4 L1196.0,1470.7 L1199.0,1470.7 L1202.0,1472.0 L1205.0,1471.8 L1208.0,1472.5 L1211.0,1474.9 L1214.0,1473.9 L1217.0,1474.8 L1220.0,1474.9 L1223.0,1473.8 L1226.0,1472.9 L1229.0,1475.5 L1232.0,1476.9 L1235.0,1477.4 L1238.0,1476.4 L1241.0,1477.0 L1244.0,1476.4 L1247.0,1476.8 L1250.0,1476.8 L1253.0,1477.0 L1256.0,1477.5 L1259.0,1478.7 L1262.0,1478.6 L1265.0,1478.1 L1268.0,1476.1 L1271.0,1476.2 L1274.0,1476.6 L1277.0,1476.9 L1280.0,1477.6 L1283.0,1478.5 L1286.0,1479.1 L1289.0,1480.3 L1292.0,1479.8 L1295.0,1479.3 L1298.0,1479.0 L1301.0,1479.3 L1304.0,1479.7 L1307.0,1480.2 L1310.0,1480.5 L1313.0,1479.8 L1316.0,1478.7 L1319.0,1478.4 L1322.0,1480.4 L1325.0,1480.4 L1328.0,1481.4 L1331.0,1481.0 L1334.0,1480.5 L1337.0,1479.2 L1340.0,1479.2 L1343.0,1479.5 L1346.0,1479.8 L1349.0,1480.9 L1352.0,1480.1 L1355.0,1479.9 L1358.0,1481.4 L1361.0,1481.1 L1364.0,1481.5 L1367.0,1479.4 L1370.0,1481.4 L1373.0,1482.3 L1376.0,1483.5 L1379.0,1483.8 L1382.0,1481.9 L1385.0,1479.4 L1388.0,1478.9 L1391.0,1480.5 L1394.0,1482.1 L1397.0,1481.6 L1400.0,1481.1 L1403.0,1481.8 L1406.0,1481.4 L1409.0,1481.2 L1412.0,1481.8 L1415.0,1482.4 L1418.0,1481.9 L1421.0,1483.4 L1424.0,1481.4 L1427.0,1480.5 L1430.0,1481.2 L1433.0,1481.0 L1436.0,1481.9 L1439.0,1481.7 L1442.0,1482.4 L1445.0,1481.6 L1448.0,1482.4 L1451.0,1482.9 L1454.0,1481.7 L1457.0,1481.5 L1460.0,1484.3 L1463.0,1486.6 L1466.0,1486.1 L1469.0,1485.6 L1472.0,1485.4 L1475.0,1486.2 L1478.0,1485.0 L1481.0,1484.7 L1484.0,1484.2 L1487.0,1483.3 L1490.0,1482.1 L1493.0,1481.4 L1496.0,1483.3 L1499.0,1483.5 L1502.0,1485.5 L1505.0,1485.1 L1508.0,1485.2 L1511.0,1483.7 L1514.0,1484.2 L1517.0,1483.4 L1520.0,1483.3 L1523.0,1485.0 L1526.0,1485.2 L1529.0,1485.6 L1532.0,1486.4 L1535.0,1488.1 L1538.0,1486.8 L1541.0,1486.1 L1544.0,1486.2 L1547.0,1486.2 L1550.0,1484.3 L1553.0,1483.4 L1556.0,1485.5 L1559.0,1485.7 L1562.0,1488.6 L1565.0,1487.6 L1568.0,1486.8 L1571.0,1486.4 L1574.0,1485.5 L1577.0,1486.2 L1580.0,1486.0 L1583.0,1486.2 L1586.0,1486.9 L1589.0,1485.6 L1592.0,1486.6 L1595.0,1487.7 L1598.0,1487.2 L1601.0,1488.3 L1604.0,1489.5 L1607.0,1488.1 L1610.0,1486.7 L1613.0,1487.7 L1616.0,1488.5 L1619.0,1488.0 L1622.0,1486.7 L1625.0,1485.9 L1628.0,1486.9 L1631.0,1487.1 L1634.0,1486.9 L1637.0,1485.7 L1640.0,1486.3 L1643.0,1487.9 L1646.0,1489.4 L1649.0,1487.6 L1652.0,1486.7 L1655.0,1487.3 L1658.0,1488.5 L1661.0,1487.7 L1664.0,1489.0 L1667.0,1487.3 L1670.0,1488.1 L1673.0,1489.2 L1676.0,1488.7 L1679.0,1488.5 L1682.0,1488.2 L1685.0,1488.0 L1688.0,1488.1 L1691.0,1487.1 L1694.0,1486.1 L1697.0,1486.4 L1700.0,1485.6 L1703.0,1485.0 L1706.0,1485.5 L1709.0,1484.9 L1712.0,1485.8 L1715.0,1485.4 L1718.0,1486.0 L1721.0,1485.8 L1724.0,1486.3 L1727.0,1487.1 L1730.0,1489.1 L1733.0,1486.9 L1736.0,1487.8 L1739.0,1487.6 L1742.0,1487.4 L1745.0,1487.1 L1748.0,1486.6 L1751.0,1485.6 L1754.0,1485.3 L1757.0,1486.2 L1760.0,1486.0 L1763.0,1485.8 L1766.0,1485.6 L1769.0,1487.6 L1772.0,1488.9 L1775.0,1488.9 L1778.0,1487.4 L1781.0,1486.4 L1784.0,1487.3 L1787.0,1488.2 L1790.0,1487.0 L1793.0,1487.7 L1796.0,1486.3 L1799.0,1486.0 L1802.0,1486.2 L1805.0,1486.2 L1808.0,1486.7 L1811.0,1485.8 L1814.0,1483.7 L1817.0,1485.6 L1820.0,1487.1 L1823.0,1488.0 L1826.0,1487.8 L1829.0,1486.8 L1832.0,1487.0 L1835.0,1487.7 L1838.0,1487.3 L1841.0,1488.0 L1844.0,1487.3 L1847.0,1487.3 L1850.0,1487.1 L1853.0,1486.8 L1856.0,1485.8 L1859.0,1486.9 L1862.0,1487.8 L1865.0,1485.9 L1868.0,1485.6 L1871.0,1485.5 L1874.0,1486.3 L1877.0,1486.1 L1880.0,1487.4 L1883.0,1487.8 L1886.0,1487.3 L1889.0,1487.9 L1892.0,1487.6 L1895.0,1487.5 L1898.0,1487.3 L1901.0,1485.3 L1904.0,1485.0 L1907.0,1484.3 L1910.0,1484.8 L1913.0,1484.9 L1916.0,1485.2 L1919.0,1486.5 L1922.0,1487.4 L1925.0,1487.1 L1928.0,1486.0 L1931.0,1487.3 L1934.0,1487.8 L1937.0,1488.9 L1940.0,1488.7 L1943.0,1488.1 L1946.0,1486.9 L1949.0,1487.4 L1952.0,1487.3 L1955.0,1489.8 L1958.0,1488.3 L1961.0,1488.0 L1964.0,1488.0 L1967.0,1486.6 L1970.0,1485.9 L1973.0,1486.7 L1976.0,1487.0 L1979.0,1487.5 L1982.0,1487.5 L1985.0,1487.0 L1988.0,1486.2 L1991.0,1486.4 L1994.0,1486.5 L1997.0,1485.9" fill="none" stroke="#00AD65" stroke-width="11.5" stroke-linejoin="round" stroke-linecap="butt"/>
<path d="M199.0,1498.0 L202.0,1498.0 L205.0,1497.5 L208.0,1497.8 L211.0,1499.1 L214.0,1499.1 L217.0,1499.3 L220.0,1499.9 L223.0,1499.6 L226.0,1500.3 L229.0,1500.6 L232.0,1499.9 L235.0,1499.8 L238.0,1498.6 L241.0,1497.5 L244.0,1499.0 L247.0,1498.5 L250.0,1498.0 L253.0,1500.1 L256.0,1500.2 L259.0,1499.9 L262.0,1501.1 L265.0,1500.2 L268.0,1500.4 L271.0,1498.4 L274.0,1497.8 L277.0,1497.2 L280.0,1497.3 L283.0,1497.2 L286.0,1499.3 L289.0,1501.3 L292.0,1501.0 L295.0,1499.4 L298.0,1498.3 L301.0,1497.8 L304.0,1496.2 L307.0,1497.3 L310.0,1497.7 L313.0,1499.4 L316.0,1498.3 L319.0,1497.0 L322.0,1498.3 L325.0,1498.9 L328.0,1497.1 L331.0,1498.1 L334.0,1498.2 L337.0,1498.6 L340.0,1498.4 L343.0,1499.1 L346.0,1500.0 L349.0,1500.6 L352.0,1500.4 L355.0,1498.7 L358.0,1498.2 L361.0,1500.0 L364.0,1498.8 L367.0,1499.7 L370.0,1500.2 L373.0,1500.7 L376.0,1500.1 L379.0,1498.3 L382.0,1497.0 L385.0,1498.5 L388.0,1499.2 L391.0,1499.6 L394.0,1498.3 L397.0,1497.8 L400.0,1498.4 L403.0,1499.7 L406.0,1498.1 L409.0,1496.7 L412.0,1498.2 L415.0,1499.3 L418.0,1500.1 L421.0,1499.0 L424.0,1499.7 L427.0,1499.6 L430.0,1498.7 L433.0,1498.5 L436.0,1499.0 L439.0,1499.1 L442.0,1499.1 L445.0,1499.0 L448.0,1498.9 L451.0,1497.9 L454.0,1497.8 L457.0,1497.2 L460.0,1498.2 L463.0,1499.1 L466.0,1500.9 L469.0,1498.7 L472.0,1498.6 L475.0,1497.6 L478.0,1494.1 L481.0,1490.9 L484.0,1486.0 L487.0,1483.6 L490.0,1479.6 L493.0,1473.7 L496.0,1473.3 L499.0,1473.6 L502.0,1471.0 L505.0,1468.0 L508.0,1466.5 L511.0,1465.6 L514.0,1465.4 L517.0,1463.7 L520.0,1461.6 L523.0,1458.8 L526.0,1456.0 L529.0,1454.2 L532.0,1452.7 L535.0,1451.8 L538.0,1449.3 L541.0,1446.6 L544.0,1445.3 L547.0,1444.6 L550.0,1442.3 L553.0,1438.4 L556.0,1434.5 L559.0,1434.3 L562.0,1432.9 L565.0,1430.3 L568.0,1426.9 L571.0,1424.3 L574.0,1422.4 L577.0,1420.9 L580.0,1418.2 L583.0,1415.8 L586.0,1414.0 L589.0,1412.6 L592.0,1411.1 L595.0,1408.5 L598.0,1405.2 L601.0,1404.3 L604.0,1403.2 L607.0,1399.4 L610.0,1395.2 L613.0,1393.3 L616.0,1390.2 L619.0,1387.9 L622.0,1384.1 L625.0,1382.8 L628.0,1378.9 L631.0,1374.8 L634.0,1371.3 L637.0,1369.0 L640.0,1366.4 L643.0,1364.3 L646.0,1361.9 L649.0,1359.8 L652.0,1355.2 L655.0,1351.7 L658.0,1349.1 L661.0,1345.2 L664.0,1343.4 L667.0,1339.8 L670.0,1336.8 L673.0,1334.2 L676.0,1330.5 L679.0,1327.5 L682.0,1322.9 L685.0,1319.6 L688.0,1316.5 L691.0,1313.9 L694.0,1311.1 L697.0,1307.3 L700.0,1303.4 L703.0,1301.3 L706.0,1296.4 L709.0,1293.6 L712.0,1290.2 L715.0,1287.7 L718.0,1284.6 L721.0,1280.5 L724.0,1276.0 L727.0,1272.1 L730.0,1269.1 L733.0,1266.1 L736.0,1261.4 L739.0,1257.8 L742.0,1255.7 L745.0,1253.5 L748.0,1249.7 L751.0,1245.7 L754.0,1241.7 L757.0,1239.1 L760.0,1234.3 L763.0,1231.9 L766.0,1230.5 L769.0,1228.1 L772.0,1225.8 L775.0,1222.5 L778.0,1219.4 L781.0,1215.3 L784.0,1212.1 L787.0,1208.7 L790.0,1207.9 L793.0,1206.3 L796.0,1203.8 L799.0,1200.6 L802.0,1198.4 L805.0,1196.8 L808.0,1196.0 L811.0,1193.1 L814.0,1191.8 L817.0,1190.6 L820.0,1187.3 L823.0,1185.6 L826.0,1183.5 L829.0,1181.6 L832.0,1180.0 L835.0,1177.6 L838.0,1175.6 L841.0,1172.4 L844.0,1169.1 L847.0,1167.4 L850.0,1165.0 L853.0,1162.9 L856.0,1162.0 L859.0,1161.0 L862.0,1160.4 L865.0,1159.6 L868.0,1158.5 L871.0,1157.4 L874.0,1156.6 L877.0,1156.1 L880.0,1154.8 L883.0,1153.8 L886.0,1152.6 L889.0,1151.6 L892.0,1150.2 L895.0,1149.3 L898.0,1148.8 L901.0,1147.7 L904.0,1147.2 L907.0,1145.4 L910.0,1145.0 L913.0,1146.2 L916.0,1145.2 L919.0,1144.7 L922.0,1143.8 L925.0,1143.2 L928.0,1143.1 L931.0,1142.9 L934.0,1144.6 L937.0,1142.5 L940.0,1141.8 L943.0,1140.1 L946.0,1138.5 L949.0,1138.3 L952.0,1139.2 L955.0,1141.0 L958.0,1139.6 L961.0,1138.7 L964.0,1138.6 L967.0,1136.6 L970.0,1136.9 L973.0,1137.6 L976.0,1138.4 L979.0,1137.7 L982.0,1136.0 L985.0,1136.0 L988.0,1136.0 L991.0,1134.4 L994.0,1134.5 L997.0,1134.0 L1000.0,1134.0 L1003.0,1132.9 L1006.0,1134.4 L1009.0,1133.8 L1012.0,1133.6 L1015.0,1135.7 L1018.0,1135.6 L1021.0,1134.4 L1024.0,1133.3 L1027.0,1132.7 L1030.0,1132.9 L1033.0,1133.7 L1036.0,1134.5 L1039.0,1135.1 L1042.0,1132.7 L1045.0,1130.2 L1048.0,1130.1 L1051.0,1131.4 L1054.0,1131.7 L1057.0,1130.3 L1060.0,1129.6 L1063.0,1129.8 L1066.0,1128.8 L1069.0,1128.4 L1072.0,1127.1 L1075.0,1127.6 L1078.0,1127.8 L1081.0,1128.5 L1084.0,1127.5 L1087.0,1129.0 L1090.0,1127.9 L1093.0,1127.1 L1096.0,1125.7 L1099.0,1126.3 L1102.0,1127.0 L1107.0,1125.5 L1110.5,1133.0 L1111.5,1166.0 L1113.0,1200.0 L1115.0,1300.0 L1117.5,1380.0 L1119.5,1429.0 L1123.0,1433.6 L1126.0,1440.1 L1129.0,1445.0 L1132.0,1451.8 L1135.0,1455.3 L1138.0,1458.9 L1141.0,1460.3 L1144.0,1459.8 L1147.0,1460.6 L1150.0,1461.2 L1153.0,1463.3 L1156.0,1465.9 L1159.0,1465.8 L1162.0,1466.9 L1165.0,1468.5 L1168.0,1469.0 L1171.0,1471.1 L1174.0,1472.0 L1177.0,1472.4 L1180.0,1473.5 L1183.0,1474.3 L1186.0,1473.4 L1189.0,1474.4 L1192.0,1475.5 L1195.0,1474.1 L1198.0,1472.6 L1201.0,1472.7 L1204.0,1474.8 L1207.0,1477.2 L1210.0,1477.1 L1213.0,1477.3 L1216.0,1476.1 L1219.0,1475.6 L1222.0,1477.4 L1225.0,1477.2 L1228.0,1476.4 L1231.0,1476.7 L1234.0,1475.7 L1237.0,1476.9 L1240.0,1476.1 L1243.0,1476.4 L1246.0,1477.1 L1249.0,1475.6 L1252.0,1476.9 L1255.0,1478.1 L1258.0,1478.5 L1261.0,1478.3 L1264.0,1478.4 L1267.0,1477.8 L1270.0,1478.8 L1273.0,1478.8 L1276.0,1480.8 L1279.0,1480.8 L1282.0,1481.4 L1285.0,1480.2 L1288.0,1479.2 L1291.0,1478.5 L1294.0,1479.4 L1297.0,1480.7 L1300.0,1481.3 L1303.0,1482.0 L1306.0,1481.9 L1309.0,1481.7 L1312.0,1481.7 L1315.0,1480.7 L1318.0,1480.9 L1321.0,1480.7 L1324.0,1482.4 L1327.0,1482.1 L1330.0,1481.0 L1333.0,1480.4 L1336.0,1481.2 L1339.0,1483.5 L1342.0,1483.3 L1345.0,1483.2 L1348.0,1482.8 L1351.0,1481.1 L1354.0,1481.4 L1357.0,1482.1 L1360.0,1482.7 L1363.0,1482.0 L1366.0,1482.6 L1369.0,1482.7 L1372.0,1483.4 L1375.0,1485.4 L1378.0,1483.5 L1381.0,1482.4 L1384.0,1483.1 L1387.0,1482.2 L1390.0,1481.5 L1393.0,1483.1 L1396.0,1483.4 L1399.0,1484.1 L1402.0,1485.0 L1405.0,1485.1 L1408.0,1485.2 L1411.0,1484.0 L1414.0,1484.6 L1417.0,1483.0 L1420.0,1482.8 L1423.0,1483.5 L1426.0,1484.0 L1429.0,1485.6 L1432.0,1486.9 L1435.0,1484.6 L1438.0,1482.9 L1441.0,1483.5 L1444.0,1484.5 L1447.0,1484.9 L1450.0,1485.1 L1453.0,1485.7 L1456.0,1484.6 L1459.0,1484.3 L1462.0,1483.8 L1465.0,1485.2 L1468.0,1484.4 L1471.0,1484.8 L1474.0,1483.9 L1477.0,1484.9 L1480.0,1483.9 L1483.0,1484.3 L1486.0,1484.7 L1489.0,1485.0 L1492.0,1485.5 L1495.0,1486.2 L1498.0,1486.7 L1501.0,1488.7 L1504.0,1486.9 L1507.0,1485.5 L1510.0,1485.3 L1513.0,1487.1 L1516.0,1487.8 L1519.0,1487.0 L1522.0,1485.3 L1525.0,1487.1 L1528.0,1486.1 L1531.0,1485.2 L1534.0,1485.1 L1537.0,1484.6 L1540.0,1485.7 L1543.0,1486.2 L1546.0,1487.1 L1549.0,1485.4 L1552.0,1486.1 L1555.0,1486.4 L1558.0,1487.8 L1561.0,1488.2 L1564.0,1487.7 L1567.0,1486.4 L1570.0,1486.0 L1573.0,1486.5 L1576.0,1488.5 L1579.0,1488.9 L1582.0,1488.2 L1585.0,1487.2 L1588.0,1487.4 L1591.0,1487.7 L1594.0,1488.5 L1597.0,1488.0 L1600.0,1488.3 L1603.0,1487.5 L1606.0,1487.2 L1609.0,1487.6 L1612.0,1489.0 L1615.0,1489.3 L1618.0,1488.9 L1621.0,1489.5 L1624.0,1488.3 L1627.0,1488.1 L1630.0,1488.4 L1633.0,1489.7 L1636.0,1489.7 L1639.0,1490.0 L1642.0,1490.2 L1645.0,1489.5 L1648.0,1488.7 L1651.0,1488.6 L1654.0,1487.6 L1657.0,1488.4 L1660.0,1489.6 L1663.0,1489.2 L1666.0,1488.8 L1669.0,1489.0 L1672.0,1488.2 L1675.0,1487.6 L1678.0,1487.5 L1681.0,1486.3 L1684.0,1485.8 L1687.0,1487.6 L1690.0,1487.6 L1693.0,1487.1 L1696.0,1486.8 L1699.0,1487.5 L1702.0,1488.0 L1705.0,1487.4 L1708.0,1486.2 L1711.0,1484.6 L1714.0,1485.7 L1717.0,1486.0 L1720.0,1486.8 L1723.0,1489.1 L1726.0,1489.2 L1729.0,1489.8 L1732.0,1489.2 L1735.0,1489.7 L1738.0,1488.3 L1741.0,1488.4 L1744.0,1489.3 L1747.0,1487.6 L1750.0,1485.9 L1753.0,1484.0 L1756.0,1486.0 L1759.0,1487.4 L1762.0,1487.9 L1765.0,1487.2 L1768.0,1486.3 L1771.0,1485.1 L1774.0,1484.2 L1777.0,1485.0 L1780.0,1485.6 L1783.0,1486.1 L1786.0,1485.5 L1789.0,1486.0 L1792.0,1487.4 L1795.0,1489.1 L1798.0,1488.1 L1801.0,1487.6 L1804.0,1488.3 L1807.0,1490.5 L1810.0,1490.2 L1813.0,1489.7 L1816.0,1489.3 L1819.0,1488.2 L1822.0,1487.5 L1825.0,1487.8 L1828.0,1487.8 L1831.0,1486.8 L1834.0,1486.9 L1837.0,1486.0 L1840.0,1486.6 L1843.0,1489.1 L1846.0,1488.2 L1849.0,1487.6 L1852.0,1486.4 L1855.0,1488.5 L1858.0,1488.7 L1861.0,1488.4 L1864.0,1488.7 L1867.0,1487.5 L1870.0,1487.4 L1873.0,1487.6 L1876.0,1487.2 L1879.0,1486.3 L1882.0,1487.7 L1885.0,1488.7 L1888.0,1488.4 L1891.0,1489.3 L1894.0,1488.1 L1897.0,1485.7 L1900.0,1483.5 L1903.0,1484.5 L1906.0,1486.7 L1909.0,1486.1 L1912.0,1487.4 L1915.0,1487.5 L1918.0,1486.3 L1921.0,1487.0 L1924.0,1487.2 L1927.0,1488.5 L1930.0,1488.3 L1933.0,1488.4 L1936.0,1488.9 L1939.0,1488.8 L1942.0,1487.3 L1945.0,1487.2 L1948.0,1487.8 L1951.0,1488.8 L1954.0,1487.9 L1957.0,1489.7 L1960.0,1488.8 L1963.0,1488.5 L1966.0,1488.4 L1969.0,1487.9 L1972.0,1488.5 L1975.0,1490.9 L1978.0,1489.8 L1981.0,1489.8 L1984.0,1489.9 L1987.0,1487.9 L1990.0,1487.0 L1993.0,1487.2 L1996.0,1488.2" fill="none" stroke="#C078E1" stroke-width="13" stroke-linejoin="round" stroke-linecap="butt"/>
</g>
<path d="M399.6,499.6 L430.0,498.9 L467.0,498.4 L513.5,498.8 L560.0,500.0 L621.6,502.3 L698.8,505.0 L776.0,507.0 L833.8,508.8 L843.0,510.5 L853.0,512.7 L880.0,514.5 L903.3,516.6 L912.0,519.0 L922.6,524.3 L940.0,528.0 L961.2,533.0 L969.0,539.0 L992.0,542.0 L1000.0,546.0 L1015.0,556.3 L1034.5,564.0 L1042.0,569.8 L1069.0,573.7 L1100.0,575.5 L1140.0,577.5 L1180.0,579.2 L1214.7,581.5 L1249.5,582.7 L1257.0,592.0 L1262.0,598.0 L1268.8,605.4 L1273.0,612.0 L1278.4,620.9 L1315.0,624.0 L1350.0,626.0 L1392.3,627.8 L1498.4,627.8 L1505.0,633.0 L1512.0,640.2 L1519.6,649.8 L1527.4,668.3 L1560.0,670.0 L1596.8,671.0 L1680.0,670.5 L1743.5,669.9 L1749.3,684.6 L1755.0,690.0 L1759.0,694.2 L1766.6,703.0 L1775.0,706.5 L1782.0,708.9 L1851.0,708.9 L1951.9,708.9 L1965.0,706.0 L1973.0,703.0" fill="none" stroke="#777777" stroke-width="7" stroke-linejoin="round"/>
<line x1="419.2" y1="1354.2" x2="442" y2="1452" stroke="#000" stroke-width="4"/>
<polygon points="449.6,1485.9 432.3,1451.9 451.1,1446.8" fill="#000"/>
<line x1="1010.3" y1="1271.4" x2="1070" y2="1168" stroke="#000" stroke-width="4"/>
<polygon points="1088.1,1136.5 1061.1,1164.3 1078.6,1173" fill="#000"/>
<line x1="1233.5" y1="1166" x2="1402" y2="1166" stroke="#767676" stroke-width="11.5" stroke-linecap="round"/>
<line x1="1569" y1="1166" x2="1737" y2="1166" stroke="#FF3B3B" stroke-width="11.5" stroke-linecap="round"/>
<line x1="1233.5" y1="1259.3" x2="1402" y2="1259.3" stroke="#006EE0" stroke-width="11.5" stroke-linecap="round"/>
<line x1="1569" y1="1259.3" x2="1737" y2="1259.3" stroke="#00AD65" stroke-width="11.5" stroke-linecap="round"/>
<line x1="1233.5" y1="1352.4" x2="1402" y2="1352.4" stroke="#C078E1" stroke-width="11.5" stroke-linecap="round"/>
<rect x="194.00" y="51.00" width="8.00" height="1489.00" fill="#000"/>
<rect x="1991.00" y="51.00" width="9.00" height="1489.00" fill="#000"/>
<rect x="170.00" y="51.00" width="1830.00" height="8.00" fill="#000"/>
<rect x="194.00" y="1508.00" width="1806.00" height="8.00" fill="#000"/>
<rect x="170.00" y="1496.00" width="24.00" height="8.00" fill="#000"/>
<rect x="170.00" y="1014.34" width="24.00" height="8.00" fill="#000"/>
<rect x="170.00" y="532.68" width="24.00" height="8.00" fill="#000"/>
<rect x="183.00" y="1255.17" width="11.00" height="8.00" fill="#000"/>
<rect x="183.00" y="773.51" width="11.00" height="8.00" fill="#000"/>
<rect x="183.00" y="291.85" width="11.00" height="8.00" fill="#000"/>
<rect x="1966.00" y="1496.00" width="25.00" height="8.00" fill="#000"/>
<rect x="1966.00" y="1014.34" width="25.00" height="8.00" fill="#000"/>
<rect x="1966.00" y="532.68" width="25.00" height="8.00" fill="#000"/>
<rect x="1980.00" y="1255.17" width="11.00" height="8.00" fill="#000"/>
<rect x="1980.00" y="773.51" width="11.00" height="8.00" fill="#000"/>
<rect x="1980.00" y="291.85" width="11.00" height="8.00" fill="#000"/>
<rect x="553.90" y="1516.00" width="8.00" height="24.00" fill="#000"/>
<rect x="913.30" y="1516.00" width="8.00" height="24.00" fill="#000"/>
<rect x="1272.70" y="1516.00" width="8.00" height="24.00" fill="#000"/>
<rect x="1632.10" y="1516.00" width="8.00" height="24.00" fill="#000"/>
<rect x="374.20" y="1516.00" width="8.00" height="11.00" fill="#000"/>
<rect x="733.60" y="1516.00" width="8.00" height="11.00" fill="#000"/>
<rect x="1093.00" y="1516.00" width="8.00" height="11.00" fill="#000"/>
<rect x="1452.40" y="1516.00" width="8.00" height="11.00" fill="#000"/>
<rect x="1811.80" y="1516.00" width="8.00" height="11.00" fill="#000"/>
<rect x="553.90" y="59.00" width="8.00" height="25.00" fill="#000"/>
<rect x="913.30" y="59.00" width="8.00" height="25.00" fill="#000"/>
<rect x="1272.70" y="59.00" width="8.00" height="25.00" fill="#000"/>
<rect x="1632.10" y="59.00" width="8.00" height="25.00" fill="#000"/>
<rect x="374.20" y="59.00" width="8.00" height="10.00" fill="#000"/>
<rect x="733.60" y="59.00" width="8.00" height="10.00" fill="#000"/>
<rect x="1093.00" y="59.00" width="8.00" height="10.00" fill="#000"/>
<rect x="1452.40" y="59.00" width="8.00" height="10.00" fill="#000"/>
<rect x="1811.80" y="59.00" width="8.00" height="10.00" fill="#000"/>
<rect x="394.00" y="107.00" width="6.00" height="705.00" fill="#000"/>
<rect x="380.00" y="792.00" width="1595.00" height="6.00" fill="#000"/>
<rect x="380.00" y="107.00" width="14.00" height="5.00" fill="#000"/>
<rect x="380.00" y="244.10" width="14.00" height="5.00" fill="#000"/>
<rect x="380.00" y="381.20" width="14.00" height="5.00" fill="#000"/>
<rect x="380.00" y="518.30" width="14.00" height="5.00" fill="#000"/>
<rect x="380.00" y="655.40" width="14.00" height="5.00" fill="#000"/>
<rect x="388.00" y="175.55" width="6.00" height="5.00" fill="#000"/>
<rect x="388.00" y="312.65" width="6.00" height="5.00" fill="#000"/>
<rect x="388.00" y="449.75" width="6.00" height="5.00" fill="#000"/>
<rect x="388.00" y="586.85" width="6.00" height="5.00" fill="#000"/>
<rect x="388.00" y="723.95" width="6.00" height="5.00" fill="#000"/>
<rect x="665.75" y="798.00" width="5.50" height="14.00" fill="#000"/>
<rect x="937.25" y="798.00" width="5.50" height="14.00" fill="#000"/>
<rect x="1208.75" y="798.00" width="5.50" height="14.00" fill="#000"/>
<rect x="1480.25" y="798.00" width="5.50" height="14.00" fill="#000"/>
<rect x="1751.75" y="798.00" width="5.50" height="14.00" fill="#000"/>
<rect x="530.00" y="798.00" width="5.50" height="6.00" fill="#000"/>
<rect x="801.50" y="798.00" width="5.50" height="6.00" fill="#000"/>
<rect x="1073.00" y="798.00" width="5.50" height="6.00" fill="#000"/>
<rect x="1344.50" y="798.00" width="5.50" height="6.00" fill="#000"/>
<rect x="1616.00" y="798.00" width="5.50" height="6.00" fill="#000"/>
<rect x="1887.50" y="798.00" width="5.50" height="6.00" fill="#000"/>
<text transform="translate(107.16,1522.00)" font-size="79.00" font-family='"Liberation Sans", Arial, sans-serif' font-weight="normal">0</text>
<text transform="translate(108.03,1040.34)" font-size="79.00" font-family='"Liberation Sans", Arial, sans-serif' font-weight="normal">2</text>
<text transform="translate(106.37,558.68)" font-size="79.00" font-family='"Liberation Sans", Arial, sans-serif' font-weight="normal">4</text>
<text transform="translate(107.55,77.02)" font-size="79.00" font-family='"Liberation Sans", Arial, sans-serif' font-weight="normal">6</text>
<text transform="translate(177.19,1620.50) scale(0.9700,1)" font-size="79.00" font-family='"Liberation Sans", Arial, sans-serif'>0</text>
<text transform="translate(494.30,1620.50) scale(0.9650,1)" font-size="79.00" font-family='"Liberation Sans", Arial, sans-serif'>200</text>
<text transform="translate(853.70,1620.50) scale(0.9650,1)" font-size="79.00" font-family='"Liberation Sans", Arial, sans-serif'>400</text>
<text transform="translate(1213.10,1620.50) scale(0.9650,1)" font-size="79.00" font-family='"Liberation Sans", Arial, sans-serif'>600</text>
<text transform="translate(1572.50,1620.50) scale(0.9650,1)" font-size="79.00" font-family='"Liberation Sans", Arial, sans-serif'>800</text>
<text transform="translate(1914.18,1620.50) scale(0.9363,1)" font-size="79.00" font-family='"Liberation Sans", Arial, sans-serif' font-weight="normal">1000</text>
<text transform="translate(959.13,1744.00) scale(0.9736,1)" font-size="78.00" font-family='"Liberation Sans", Arial, sans-serif' font-weight="normal">Time (s)</text>
<text transform="translate(77.20,1079.48) rotate(-90) scale(0.9697,1)" font-size="78.00" font-family='"Liberation Sans", Arial, sans-serif' font-weight="normal">Sensor response</text>
<text transform="translate(1134.12,175.00) scale(0.9759,1)" font-size="78.00" font-family='"Liberation Sans", Arial, sans-serif' font-weight="normal">Operating Temp. 300</text>
<text transform="translate(1843.76,143.50) scale(0.9819,1)" font-size="52.00" font-family='"Liberation Sans", Arial, sans-serif' font-weight="normal">o</text>
<text transform="translate(1871.99,175.00) scale(0.9337,1)" font-size="78.00" font-family='"Liberation Sans", Arial, sans-serif' font-weight="normal">C</text>
<text transform="translate(226.53,1328.10) scale(0.9802,1)" font-size="77.00" font-family='"Liberation Sans", Arial, sans-serif' font-weight="normal">gas on</text>
<text transform="translate(825.37,1362.70) scale(0.9982,1)" font-size="77.00" font-family='"Liberation Sans", Arial, sans-serif' font-weight="normal">gas off</text>
<text transform="translate(1379.13,1099.30) scale(0.9644,1)" font-size="78.00" font-family='"Liberation Sans", Arial, sans-serif' font-weight="normal">Rh%</text>
<text transform="translate(1443.03,1192.30) scale(0.9772,1)" font-size="78.00" font-family='"Liberation Sans", Arial, sans-serif' font-weight="normal">0.0</text>
<text transform="translate(1779.72,1192.30) scale(0.9580,1)" font-size="78.00" font-family='"Liberation Sans", Arial, sans-serif' font-weight="normal">10</text>
<text transform="translate(1442.15,1286.30) scale(0.9863,1)" font-size="78.00" font-family='"Liberation Sans", Arial, sans-serif' font-weight="normal">20</text>
<text transform="translate(1778.15,1286.30) scale(0.9768,1)" font-size="78.00" font-family='"Liberation Sans", Arial, sans-serif' font-weight="normal">40</text>
<text transform="translate(1442.07,1378.60) scale(0.9873,1)" font-size="78.00" font-family='"Liberation Sans", Arial, sans-serif' font-weight="normal">60</text>
<text transform="translate(298.41,810.80) scale(0.9750,1)" font-size="52.50" font-family='"Liberation Sans", Arial, sans-serif' font-weight="normal">3.2</text>
<text transform="translate(298.10,673.70) scale(0.9750,1)" font-size="52.50" font-family='"Liberation Sans", Arial, sans-serif' font-weight="normal">3.3</text>
<text transform="translate(297.33,536.60) scale(0.9750,1)" font-size="52.50" font-family='"Liberation Sans", Arial, sans-serif' font-weight="normal">3.4</text>
<text transform="translate(298.00,399.50) scale(0.9750,1)" font-size="52.50" font-family='"Liberation Sans", Arial, sans-serif' font-weight="normal">3.5</text>
<text transform="translate(298.10,262.40) scale(0.9750,1)" font-size="52.50" font-family='"Liberation Sans", Arial, sans-serif' font-weight="normal">3.6</text>
<text transform="translate(298.41,125.30) scale(0.9750,1)" font-size="52.50" font-family='"Liberation Sans", Arial, sans-serif' font-weight="normal">3.7</text>
<text transform="translate(382.77,863.30) scale(0.9750,1)" font-size="52.50" font-family='"Liberation Sans", Arial, sans-serif'>0</text>
<text transform="translate(625.80,863.30) scale(0.9750,1)" font-size="52.50" font-family='"Liberation Sans", Arial, sans-serif'>100</text>
<text transform="translate(897.30,863.30) scale(0.9750,1)" font-size="52.50" font-family='"Liberation Sans", Arial, sans-serif'>200</text>
<text transform="translate(1168.80,863.30) scale(0.9750,1)" font-size="52.50" font-family='"Liberation Sans", Arial, sans-serif'>300</text>
<text transform="translate(1440.30,863.30) scale(0.9750,1)" font-size="52.50" font-family='"Liberation Sans", Arial, sans-serif'>400</text>
<text transform="translate(1711.80,863.30) scale(0.9750,1)" font-size="52.50" font-family='"Liberation Sans", Arial, sans-serif'>500</text>
<text transform="translate(1081.44,953.00) scale(0.9711,1)" font-size="59.00" font-family='"Liberation Sans", Arial, sans-serif' font-weight="normal">Time (s)</text>
<text transform="translate(509.57,476.00) scale(0.9921,1)" font-size="52.50" font-family='"Liberation Sans", Arial, sans-serif' font-weight="normal">0% Rh dry air</text>
<text transform="translate(1071.12,548.20) scale(0.9725,1)" font-size="52.50" font-family='"Liberation Sans", Arial, sans-serif' font-weight="normal">10%</text>
<text transform="translate(1221.88,542.50) scale(1.0273,1)" font-size="52.50" font-family='"Liberation Sans", Arial, sans-serif' font-weight="normal">Rh</text>
<text transform="translate(1323.31,612.80) scale(0.9852,1)" font-size="52.50" font-family='"Liberation Sans", Arial, sans-serif' font-weight="normal">20%</text>
<text transform="translate(1569.41,635.10) scale(0.9842,1)" font-size="52.50" font-family='"Liberation Sans", Arial, sans-serif' font-weight="normal">40%</text>
<text transform="translate(1811.92,690.60)" font-size="52.50" font-family='"Liberation Sans", Arial, sans-serif' font-weight="normal">60%</text>
<text transform="translate(278.10,741.36) rotate(-90) scale(0.9745,1)" font-size="50.00" font-family='"Liberation Sans", Arial, sans-serif' font-weight="bold">Resistance change</text>
<text transform="translate(278.10,272.12) rotate(-90) scale(0.9685,1)" font-size="50.00" font-family='"Liberation Sans", Arial, sans-serif' font-weight="bold">(M</text>
<text transform="translate(278.10,218.66) rotate(-90) scale(1.0245,1)" font-size="50.00" font-family='"Liberation Serif", "Times New Roman", serif' font-weight="normal">Ω)</text>
</svg></body></html>
